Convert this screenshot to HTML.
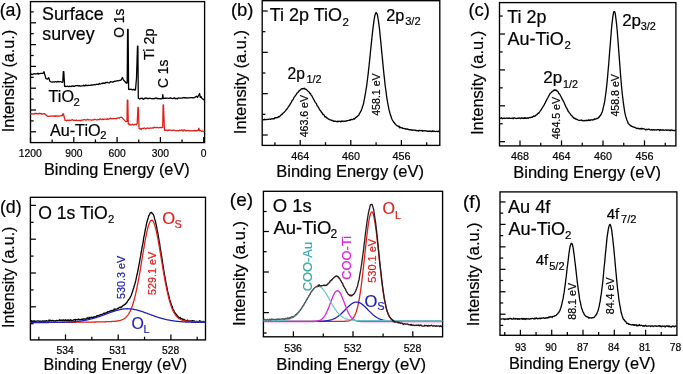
<!DOCTYPE html>
<html><head><meta charset="utf-8"><style>
html,body{margin:0;padding:0;background:#fff;}
svg{display:block;will-change:transform;}
text{font-family:"Liberation Sans", sans-serif;stroke-width:0.2px;}
</style></head><body>
<svg width="683" height="374" viewBox="0 0 683 374">
<rect width="683" height="374" fill="#fff"/>
<text x="-0.37" y="16" font-size="17.8" fill="#000" stroke="#000">(a)</text>
<rect x="30.5" y="1.6" width="174.1" height="141" fill="none" stroke="#000" stroke-width="1.35"/>
<line x1="30.5" y1="131.8" x2="36" y2="131.8" stroke="#000" stroke-width="1.25"/>
<line x1="30.5" y1="110" x2="36" y2="110" stroke="#000" stroke-width="1.25"/>
<line x1="30.5" y1="88.2" x2="36" y2="88.2" stroke="#000" stroke-width="1.25"/>
<line x1="30.5" y1="66.4" x2="36" y2="66.4" stroke="#000" stroke-width="1.25"/>
<line x1="30.5" y1="44.6" x2="36" y2="44.6" stroke="#000" stroke-width="1.25"/>
<line x1="30.5" y1="22.8" x2="36" y2="22.8" stroke="#000" stroke-width="1.25"/>
<line x1="30.5" y1="120.9" x2="33.7" y2="120.9" stroke="#000" stroke-width="1.25"/>
<line x1="30.5" y1="99.1" x2="33.7" y2="99.1" stroke="#000" stroke-width="1.25"/>
<line x1="30.5" y1="77.3" x2="33.7" y2="77.3" stroke="#000" stroke-width="1.25"/>
<line x1="30.5" y1="55.5" x2="33.7" y2="55.5" stroke="#000" stroke-width="1.25"/>
<line x1="30.5" y1="33.7" x2="33.7" y2="33.7" stroke="#000" stroke-width="1.25"/>
<line x1="30.5" y1="11.9" x2="33.7" y2="11.9" stroke="#000" stroke-width="1.25"/>
<line x1="30.5" y1="142.6" x2="30.5" y2="137.1" stroke="#000" stroke-width="1.25"/>
<line x1="73.8" y1="142.6" x2="73.8" y2="137.1" stroke="#000" stroke-width="1.25"/>
<line x1="117.1" y1="142.6" x2="117.1" y2="137.1" stroke="#000" stroke-width="1.25"/>
<line x1="160.4" y1="142.6" x2="160.4" y2="137.1" stroke="#000" stroke-width="1.25"/>
<line x1="203.7" y1="142.6" x2="203.7" y2="137.1" stroke="#000" stroke-width="1.25"/>
<line x1="52.15" y1="142.6" x2="52.15" y2="139.4" stroke="#000" stroke-width="1.25"/>
<line x1="95.45" y1="142.6" x2="95.45" y2="139.4" stroke="#000" stroke-width="1.25"/>
<line x1="138.75" y1="142.6" x2="138.75" y2="139.4" stroke="#000" stroke-width="1.25"/>
<line x1="182.05" y1="142.6" x2="182.05" y2="139.4" stroke="#000" stroke-width="1.25"/>
<text x="18.86" y="157.1" font-size="10.3" fill="#000" stroke="#000">1200</text>
<text x="65.2" y="157.1" font-size="10.3" fill="#000" stroke="#000">900</text>
<text x="108.47" y="157.1" font-size="10.3" fill="#000" stroke="#000">600</text>
<text x="151.83" y="157.1" font-size="10.3" fill="#000" stroke="#000">300</text>
<text x="200.84" y="157.1" font-size="10.3" fill="#000" stroke="#000">0</text>
<text x="44" y="174.9" font-size="16.3" fill="#000" stroke="#000">Binding Energy (eV)</text>
<text transform="translate(13.6,132.36) rotate(-90)" font-size="16.2" fill="#000" stroke="#000">Intensity (a.u.)</text>
<text x="41.99" y="19.8" font-size="17.9" fill="#000" stroke="#000">Surface</text>
<text x="42.27" y="40.3" font-size="17.8" fill="#000" stroke="#000">survey</text>
<text transform="translate(123.9,37.72) rotate(-90)" font-size="13.8" fill="#000" stroke="#000">O 1s</text>
<text transform="translate(153.8,60.06) rotate(-90)" font-size="14.4" fill="#000" stroke="#000">Ti 2p</text>
<text transform="translate(167.9,87.99) rotate(-90)" font-size="13.8" fill="#000" stroke="#000">C 1s</text>
<text x="48.59" y="102" font-size="16.2" fill="#000" stroke="#000">TiO</text>
<text x="73.44" y="105.7" font-size="11.3" fill="#000" stroke="#000">2</text>
<text x="49.92" y="135.6" font-size="16.2" fill="#000" stroke="#000">Au-TiO</text>
<text x="100.14" y="139.3" font-size="11.3" fill="#000" stroke="#000">2</text>
<path d="M30.5,74.2 L31.24,74.16 L31.97,74.5 L32.71,74.41 L33.44,73.84 L34.18,73.85 L34.91,73.72 L35.65,74 L36.38,73.76 L37.12,73.95 L37.85,73.12 L38.59,74.09 L39.32,73.54 L40.06,73.72 L40.79,73.42 L41.53,73.29 L42.26,73.49 L43,73.3 L44,71.7 L45.9,78.7 L47.5,79 L48.7,77.8 L50,81.5 L51.4,82 L52.11,82.25 L52.82,81.94 L53.54,81.95 L54.25,82.21 L54.96,81.74 L55.67,81.55 L56.39,82.12 L57.1,81.8 L57.81,81.42 L58.52,81.76 L59.24,81.86 L59.95,81.64 L60.66,81.55 L61.38,82.01 L62.09,82.27 L62.8,82 L63.3,71.6 L63.8,71.6 L64.6,86.4 L66,86.5 L66.71,86.39 L67.41,86.21 L68.12,86.51 L68.82,86.57 L69.53,86.23 L70.24,86.45 L70.94,86.57 L71.65,86.16 L72.35,85.94 L73.06,86.25 L73.76,86.19 L74.47,86.41 L75.18,85.66 L75.88,85.81 L76.59,85.72 L77.29,85.42 L78,85.94 L78.71,86.02 L79.41,85.61 L80.12,86.21 L80.82,86.01 L81.53,85.91 L82.24,85.81 L82.94,85.94 L83.65,85.22 L84.35,85.77 L85.06,85.73 L85.76,84.98 L86.47,85.58 L87.18,85.37 L87.88,85.64 L88.59,85.24 L89.29,85.33 L90,85.3 L90.71,85.29 L91.43,84.82 L92.14,85.15 L92.86,84.83 L93.57,84.89 L94.29,84.48 L95,84.85 L95.71,84.6 L96.43,84.25 L97.14,84.38 L97.86,84.46 L98.57,84.51 L99.29,83.39 L100,84.01 L100.71,83.78 L101.43,83.5 L102.14,83.12 L102.86,83.68 L103.57,82.82 L104.29,83.26 L105,83.37 L105.71,82.38 L106.43,82.66 L107.14,82.25 L107.86,82.61 L108.57,82.88 L109.29,82.92 L110,82.2 L110.73,81.53 L111.47,81.76 L112.2,82.01 L112.93,82.14 L113.67,81.66 L114.4,81.18 L115.13,81.36 L115.87,81.13 L116.6,80.94 L117.33,80.65 L118.07,80.85 L118.8,80.69 L119.53,80.44 L120.27,80.27 L121,80.2 L122.4,77.5 L123.5,80 L126.5,83.2 L127.2,83 L127.6,29.3 L128.1,29.3 L128.6,89.3 L130,89.5 L130.79,89.16 L131.57,89.44 L132.36,89.99 L133.14,89.61 L133.93,89.28 L134.71,90.16 L135.5,89.8 L136.5,78 L137.5,46.2 L137.9,46.2 L138.3,98.3 L139.04,98.49 L139.79,99 L140.53,98.42 L141.28,98.29 L142.02,98.03 L142.77,98.9 L143.51,99.3 L144.26,98.32 L145,98.6 L146,97.8 L147,98.5 L147.73,98.31 L148.46,98.68 L149.19,98.25 L149.91,98.42 L150.64,98.4 L151.37,98.56 L152.1,98.83 L152.83,98.51 L153.56,98.78 L154.29,98.37 L155.01,98.6 L155.74,97.86 L156.47,98.07 L157.2,98.74 L157.93,98.32 L158.66,98.67 L159.39,98.66 L160.11,98.9 L160.84,98.74 L161.57,98.81 L162.3,98.5 L162.8,94.7 L163.3,98.5 L164.01,98.45 L164.71,98.25 L165.42,98.22 L166.13,98.27 L166.83,98.06 L167.54,98.21 L168.25,98.33 L168.95,98.41 L169.66,98.21 L170.37,97.72 L171.08,98.25 L171.78,98.32 L172.49,98.56 L173.2,98.39 L173.9,98 L174.61,97.96 L175.32,98.76 L176.02,98.36 L176.73,98.66 L177.44,98.73 L178.14,97.83 L178.85,98.17 L179.56,98.17 L180.26,98.18 L180.97,98.15 L181.68,98.03 L182.38,98 L183.09,97.48 L183.8,97.86 L184.5,97.66 L185.21,97.9 L185.92,97.71 L186.62,98.01 L187.33,98.05 L188.04,97.88 L188.75,97.86 L189.45,97.77 L190.16,97.59 L190.87,97.65 L191.57,97.53 L192.28,97.78 L192.99,97.65 L193.69,97.79 L194.4,97.6 L196.6,96.2 L197.5,97.5 L199.6,93.5 L200.3,97.5 L201,96.5 L202,98.5 L204,99.9" fill="none" stroke="#000" stroke-width="1.3" stroke-linejoin="round" stroke-linecap="round" opacity="1"/>
<path d="M30.5,113.7 L31.21,113.7 L31.92,114.01 L32.63,113.92 L33.34,113.92 L34.05,114.19 L34.76,113.34 L35.47,113.51 L36.18,113.3 L36.89,113.67 L37.6,114 L38.31,113.69 L39.02,113.85 L39.73,113.13 L40.44,113.74 L41.15,113.43 L41.86,114.23 L42.57,113.97 L43.28,113.98 L43.99,113.68 L44.7,113.7 L47.4,116.2 L48.11,116.38 L48.81,116.4 L49.52,116.1 L50.23,116.05 L50.93,116.17 L51.64,116.02 L52.34,116.02 L53.05,116.11 L53.76,115.98 L54.46,116.43 L55.17,115.72 L55.88,116.45 L56.58,116.01 L57.29,116.04 L57.99,115.79 L58.7,116.2 L59.46,116.02 L60.22,115.85 L60.98,115.84 L61.74,115.48 L62.5,115.5 L62.8,113.9 L63.5,114 L65,120.3 L65.71,120.32 L66.43,120.82 L67.14,120.39 L67.86,120.08 L68.57,120.53 L69.29,120.19 L70,120.4 L70.71,120.39 L71.43,120.08 L72.14,119.61 L72.86,120.07 L73.57,120.33 L74.29,120.04 L75,120.27 L75.71,120.42 L76.43,119.95 L77.14,120.48 L77.86,120.58 L78.57,120.41 L79.29,120.42 L80,120.39 L80.71,120.72 L81.43,120.09 L82.14,120.03 L82.86,120.2 L83.57,119.73 L84.29,119.53 L85,119.72 L85.71,120.08 L86.43,120.1 L87.14,119.48 L87.86,119.37 L88.57,119.83 L89.29,119.86 L90,119.9 L90.71,119.85 L91.43,120.03 L92.14,120.17 L92.86,119.83 L93.57,119.91 L94.29,119.37 L95,119.31 L95.71,119.7 L96.43,119.79 L97.14,119.78 L97.86,119.7 L98.57,119.72 L99.29,119.7 L100,118.89 L100.71,119.17 L101.43,119.49 L102.14,119.5 L102.86,118.83 L103.57,119.6 L104.29,119.08 L105,119.11 L105.71,119.23 L106.43,119.34 L107.14,118.65 L107.86,119.34 L108.57,119.03 L109.29,118.74 L110,118.86 L110.71,118.25 L111.43,118.68 L112.14,118.89 L112.86,118.59 L113.57,118.67 L114.29,118.69 L115,118.7 L115.73,118.54 L116.47,118.65 L117.2,118.16 L117.93,117.91 L118.67,117.97 L119.4,118.26 L120.13,117.35 L120.87,117.43 L121.6,117.1 L125.8,121.6 L127,121.6 L127.3,100.2 L127.8,100.2 L128.3,124.3 L129.01,123.87 L129.72,124.79 L130.43,124.63 L131.14,124.88 L131.85,124.51 L132.55,124.26 L133.26,124.88 L133.97,124.89 L134.68,124.45 L135.39,124.31 L136.1,124.8 L137.2,123.5 L137.9,107.5 L138.3,107.5 L139.1,128.8 L139.82,128.89 L140.53,128.66 L141.25,129.44 L141.97,128.43 L142.68,128.41 L143.4,128.49 L144.12,127.97 L144.83,128.16 L145.55,128.87 L146.27,128.29 L146.98,128.1 L147.7,127.86 L148.42,128.37 L149.13,128.34 L149.85,128.18 L150.57,127.94 L151.28,128.1 L152,128.07 L152.72,127.71 L153.43,128.05 L154.15,127.19 L154.87,127.39 L155.58,127.64 L156.3,127.65 L157.02,127.28 L157.73,127.69 L158.45,127.86 L159.17,127.63 L159.88,127.51 L160.6,127.4 L161.65,127.65 L162.7,127.4 L163.1,105 L163.5,105 L164.5,130.3 L165.21,130.43 L165.93,129.97 L166.64,130.26 L167.35,130.72 L168.06,130 L168.78,130.37 L169.49,130.24 L170.2,130.1 L170.91,130.07 L171.63,130.42 L172.34,130.49 L173.05,130.49 L173.77,129.98 L174.48,130.33 L175.19,130.53 L175.9,130.72 L176.62,130.65 L177.33,130.7 L178.04,130.79 L178.76,130.72 L179.47,130.23 L180.18,130.5 L180.89,130.28 L181.61,129.79 L182.32,130.01 L183.03,131.15 L183.74,130.19 L184.46,129.87 L185.17,130.37 L185.88,131.01 L186.6,130.55 L187.31,130.69 L188.02,130.5 L188.73,130.56 L189.45,130.98 L190.16,130.85 L190.87,130.59 L191.59,130.89 L192.3,130.95 L193.01,130.57 L193.72,130.73 L194.44,130.73 L195.15,130.47 L195.86,131.02 L196.57,130.63 L197.29,130.51 L198,130.7 L198.8,128.2 L199.5,130.7 L200.25,130.33 L201,130.59 L201.75,131.56 L202.5,130.89 L203.25,131.5 L204,131.5" fill="none" stroke="#e0201c" stroke-width="1.3" stroke-linejoin="round" stroke-linecap="round" opacity="1"/>
<text x="230.89" y="15.9" font-size="18.5" fill="#000" stroke="#000">(b)</text>
<rect x="262.2" y="0.7" width="177.6" height="144.7" fill="none" stroke="#000" stroke-width="1.35"/>
<line x1="262.2" y1="135" x2="267.7" y2="135" stroke="#000" stroke-width="1.25"/>
<line x1="262.2" y1="93.67" x2="267.7" y2="93.67" stroke="#000" stroke-width="1.25"/>
<line x1="262.2" y1="52.34" x2="267.7" y2="52.34" stroke="#000" stroke-width="1.25"/>
<line x1="262.2" y1="11.01" x2="267.7" y2="11.01" stroke="#000" stroke-width="1.25"/>
<line x1="262.2" y1="114.33" x2="265.4" y2="114.33" stroke="#000" stroke-width="1.25"/>
<line x1="262.2" y1="73" x2="265.4" y2="73" stroke="#000" stroke-width="1.25"/>
<line x1="262.2" y1="31.67" x2="265.4" y2="31.67" stroke="#000" stroke-width="1.25"/>
<line x1="262.2" y1="-9.66" x2="265.4" y2="-9.66" stroke="#000" stroke-width="1.25"/>
<line x1="300.2" y1="145.4" x2="300.2" y2="139.9" stroke="#000" stroke-width="1.25"/>
<line x1="350.8" y1="145.4" x2="350.8" y2="139.9" stroke="#000" stroke-width="1.25"/>
<line x1="401.4" y1="145.4" x2="401.4" y2="139.9" stroke="#000" stroke-width="1.25"/>
<line x1="274.9" y1="145.4" x2="274.9" y2="142.2" stroke="#000" stroke-width="1.25"/>
<line x1="325.5" y1="145.4" x2="325.5" y2="142.2" stroke="#000" stroke-width="1.25"/>
<line x1="376.1" y1="145.4" x2="376.1" y2="142.2" stroke="#000" stroke-width="1.25"/>
<line x1="426.7" y1="145.4" x2="426.7" y2="142.2" stroke="#000" stroke-width="1.25"/>
<text x="291.24" y="159.6" font-size="10.8" fill="#000" stroke="#000">464</text>
<text x="341.89" y="159.6" font-size="10.8" fill="#000" stroke="#000">460</text>
<text x="392.52" y="159.6" font-size="10.8" fill="#000" stroke="#000">456</text>
<text x="276.28" y="177.2" font-size="16.5" fill="#000" stroke="#000">Binding Energy (eV)</text>
<text transform="translate(245.7,134.18) rotate(-90)" font-size="16.45" fill="#000" stroke="#000">Intensity (a.u.)</text>
<text x="269.75" y="21.2" font-size="18" fill="#000" stroke="#000">Ti 2p TiO</text>
<text x="342.53" y="25.5" font-size="11.5" fill="#000" stroke="#000">2</text>
<text x="287.62" y="78.5" font-size="15.6" fill="#000" stroke="#000">2p</text>
<text x="306.48" y="82.8" font-size="10.9" fill="#000" stroke="#000">1/2</text>
<text x="386.19" y="21" font-size="16.3" fill="#000" stroke="#000">2p</text>
<text x="405.16" y="24.9" font-size="11.1" fill="#000" stroke="#000">3/2</text>
<text transform="translate(308,137.36) rotate(-90)" font-size="10.6" fill="#000" stroke="#000">463.6 eV</text>
<text transform="translate(380.3,115.77) rotate(-90)" font-size="10.6" fill="#000" stroke="#000">458.1 eV</text>
<path d="M262.9,119.65 L263.4,119.76 L263.9,119.63 L264.4,119.2 L264.9,119.74 L265.4,119.61 L265.91,119.34 L266.41,119.6 L266.91,119.52 L267.41,119.47 L267.91,119.38 L268.41,119.47 L268.91,119.11 L269.41,119.21 L269.91,119.08 L270.41,119.29 L270.91,119.09 L271.41,118.93 L271.92,118.73 L272.42,118.78 L272.92,118.75 L273.42,118.57 L273.92,118.85 L274.42,118.65 L274.92,117.58 L275.42,117.63 L275.92,117.89 L276.42,117.65 L276.92,117.6 L277.42,117.39 L277.93,117.63 L278.43,116.57 L278.93,116.48 L279.43,116.79 L279.93,116.12 L280.43,115.78 L280.93,115.13 L281.43,114.46 L281.93,114.5 L282.43,114.05 L282.93,113.25 L283.43,112.89 L283.94,112.53 L284.44,111.77 L284.94,111.41 L285.44,110.87 L285.94,110.23 L286.44,109.45 L286.94,109.05 L287.44,108.43 L287.94,107.58 L288.44,106.56 L288.94,106.19 L289.45,105.11 L289.95,104.67 L290.45,103.38 L290.95,103.07 L291.45,102.01 L291.95,100.88 L292.45,100.29 L292.95,99.56 L293.45,98.8 L293.95,97.67 L294.45,96.84 L294.95,96.39 L295.46,95.46 L295.96,94.89 L296.46,94.3 L296.96,93.02 L297.46,92.84 L297.96,92.46 L298.46,91.51 L298.96,90.85 L299.46,90.75 L299.96,90.19 L300.46,89.96 L300.96,89.32 L301.47,88.76 L301.97,88.88 L302.47,88.64 L302.97,88.84 L303.47,88.66 L303.97,88.22 L304.47,88.42 L304.97,89.08 L305.47,89.23 L305.97,89.17 L306.47,89.65 L306.97,90.15 L307.48,90.59 L307.98,91.18 L308.48,91.56 L308.98,92.06 L309.48,92.64 L309.98,93.64 L310.48,93.53 L310.98,94.8 L311.48,95.61 L311.98,96.05 L312.48,97.32 L312.99,97.92 L313.49,99.15 L313.99,99.78 L314.49,100.86 L314.99,101.89 L315.49,102.57 L315.99,103.14 L316.49,103.86 L316.99,105.55 L317.49,105.95 L317.99,106.66 L318.49,107.7 L319,108.43 L319.5,109.49 L320,110.06 L320.5,110.81 L321,111.35 L321.5,112.35 L322,112.64 L322.5,113.71 L323,114.54 L323.5,114.37 L324,114.69 L324.5,115.99 L325.01,116.97 L325.51,116.56 L326.01,116.94 L326.51,117.81 L327.01,117.84 L327.51,118.29 L328.01,118.66 L328.51,119.2 L329.01,119.25 L329.51,119.68 L330.01,119.81 L330.52,119.87 L331.02,120.2 L331.52,120.22 L332.02,120.63 L332.52,120.49 L333.02,120.63 L333.52,121.38 L334.02,121.1 L334.52,121.19 L335.02,121.41 L335.52,121.24 L336.02,121.34 L336.53,121.54 L337.03,121.54 L337.53,121.2 L338.03,121.72 L338.53,121.37 L339.03,121.25 L339.53,121.28 L340.03,121.4 L340.53,121.88 L341.03,121.15 L341.53,121.46 L342.03,120.85 L342.54,121.34 L343.04,121.52 L343.54,121.18 L344.04,121.02 L344.54,121.18 L345.04,121.23 L345.54,121.15 L346.04,121.4 L346.54,120.88 L347.04,120.59 L347.54,120.61 L348.04,120.53 L348.55,120.47 L349.05,120.32 L349.55,120.26 L350.05,119.67 L350.55,120.16 L351.05,119.67 L351.55,119.37 L352.05,119.65 L352.55,119.65 L353.05,119.25 L353.55,118.96 L354.06,118.46 L354.56,119.17 L355.06,118.4 L355.56,117.59 L356.06,117.35 L356.56,117.19 L357.06,116.36 L357.56,116.33 L358.06,115.64 L358.56,115.47 L359.06,114.73 L359.56,113.04 L360.07,112.87 L360.57,111.48 L361.07,111.05 L361.57,109.57 L362.07,108.26 L362.57,106.28 L363.07,105.24 L363.57,103.32 L364.07,100.37 L364.57,98.32 L365.07,95.42 L365.57,92.68 L366.08,89.23 L366.58,86.61 L367.08,82.24 L367.58,78.51 L368.08,74.56 L368.58,69.92 L369.08,65.46 L369.58,60.66 L370.08,55.91 L370.58,50.72 L371.08,45.94 L371.58,41.07 L372.09,36.22 L372.59,31.69 L373.09,27.26 L373.59,23.56 L374.09,19.82 L374.59,16.99 L375.09,14.66 L375.59,13.27 L376.09,12.47 L376.59,13.15 L377.09,13.82 L377.6,15.82 L378.1,18.75 L378.6,22.09 L379.1,25.79 L379.6,29.75 L380.1,35.1 L380.6,40.06 L381.1,44.81 L381.6,50.62 L382.1,55.53 L382.6,60.64 L383.1,66.07 L383.61,70.97 L384.11,75.85 L384.61,79.96 L385.11,85.15 L385.61,88.62 L386.11,92.2 L386.61,96.29 L387.11,99.32 L387.61,102.5 L388.11,105.09 L388.61,107.67 L389.11,110.01 L389.62,111.81 L390.12,114 L390.62,115.35 L391.12,116.71 L391.62,118.25 L392.12,119.5 L392.62,120.35 L393.12,121.1 L393.62,122.27 L394.12,122.39 L394.62,123.2 L395.12,124.03 L395.63,124.18 L396.13,124.97 L396.63,125.35 L397.13,125.94 L397.63,125.82 L398.13,126.18 L398.63,126.69 L399.13,126.24 L399.63,127.86 L400.13,127.12 L400.63,127.31 L401.14,127.89 L401.64,127.83 L402.14,127.56 L402.64,128.31 L403.14,128.51 L403.64,128.32 L404.14,128.49 L404.64,128.8 L405.14,128.57 L405.64,129.01 L406.14,129.06 L406.64,128.94 L407.15,128.86 L407.65,129.24 L408.15,129.16 L408.65,129.72 L409.15,129.58 L409.65,129.82 L410.15,129.73 L410.65,129.83 L411.15,129.64 L411.65,130.07 L412.15,130.41 L412.65,129.95 L413.16,129.93 L413.66,130.1 L414.16,130.07 L414.66,130.07 L415.16,130.33 L415.66,130.27 L416.16,130.75 L416.66,130.43 L417.16,130.56 L417.66,130.76 L418.16,130.48 L418.67,130.96 L419.17,130.48 L419.67,130.47 L420.17,130.62 L420.67,130.71 L421.17,130.43 L421.67,130.8 L422.17,130.42 L422.67,131.22 L423.17,130.88 L423.67,130.77 L424.17,130.73 L424.68,130.89 L425.18,130.95 L425.68,130.77 L426.18,130.83 L426.68,131.04 L427.18,130.98 L427.68,131.36 L428.18,131.44 L428.68,131.18 L429.18,131.31 L429.68,130.88 L430.18,131.39 L430.69,131.25 L431.19,131.39 L431.69,131.69 L432.19,130.74 L432.69,131.39 L433.19,131.07 L433.69,131.51 L434.19,131.05 L434.69,131.27 L435.19,131.46 L435.69,131.58 L436.19,131.46 L436.7,131.25 L437.2,131.33 L437.7,131.7 L438.2,131.49 L438.7,131.08 L439.2,131.73" fill="none" stroke="#000" stroke-width="1.3" stroke-linejoin="round" stroke-linecap="round" opacity="1"/>
<text x="468.5" y="16.4" font-size="18.4" fill="#000" stroke="#000">(c)</text>
<rect x="499.5" y="2.6" width="176.4" height="143.3" fill="none" stroke="#000" stroke-width="1.35"/>
<line x1="499.5" y1="141.7" x2="505" y2="141.7" stroke="#000" stroke-width="1.25"/>
<line x1="499.5" y1="105.8" x2="505" y2="105.8" stroke="#000" stroke-width="1.25"/>
<line x1="499.5" y1="69.9" x2="505" y2="69.9" stroke="#000" stroke-width="1.25"/>
<line x1="499.5" y1="34" x2="505" y2="34" stroke="#000" stroke-width="1.25"/>
<line x1="499.5" y1="123.75" x2="502.7" y2="123.75" stroke="#000" stroke-width="1.25"/>
<line x1="499.5" y1="87.85" x2="502.7" y2="87.85" stroke="#000" stroke-width="1.25"/>
<line x1="499.5" y1="51.95" x2="502.7" y2="51.95" stroke="#000" stroke-width="1.25"/>
<line x1="499.5" y1="16.05" x2="502.7" y2="16.05" stroke="#000" stroke-width="1.25"/>
<line x1="520" y1="145.9" x2="520" y2="140.4" stroke="#000" stroke-width="1.25"/>
<line x1="561.5" y1="145.9" x2="561.5" y2="140.4" stroke="#000" stroke-width="1.25"/>
<line x1="603" y1="145.9" x2="603" y2="140.4" stroke="#000" stroke-width="1.25"/>
<line x1="644.5" y1="145.9" x2="644.5" y2="140.4" stroke="#000" stroke-width="1.25"/>
<line x1="540.75" y1="145.9" x2="540.75" y2="142.7" stroke="#000" stroke-width="1.25"/>
<line x1="582.25" y1="145.9" x2="582.25" y2="142.7" stroke="#000" stroke-width="1.25"/>
<line x1="623.75" y1="145.9" x2="623.75" y2="142.7" stroke="#000" stroke-width="1.25"/>
<line x1="665.25" y1="145.9" x2="665.25" y2="142.7" stroke="#000" stroke-width="1.25"/>
<text x="511.09" y="159.8" font-size="10.8" fill="#000" stroke="#000">468</text>
<text x="552.54" y="159.8" font-size="10.8" fill="#000" stroke="#000">464</text>
<text x="594.09" y="159.8" font-size="10.8" fill="#000" stroke="#000">460</text>
<text x="635.62" y="159.8" font-size="10.8" fill="#000" stroke="#000">456</text>
<text x="513.28" y="177.8" font-size="16.5" fill="#000" stroke="#000">Binding Energy (eV)</text>
<text transform="translate(482.6,134.98) rotate(-90)" font-size="16.45" fill="#000" stroke="#000">Intensity (a.u.)</text>
<text x="507.35" y="22.5" font-size="17.9" fill="#000" stroke="#000">Ti 2p</text>
<text x="507.41" y="44.5" font-size="18" fill="#000" stroke="#000">Au-TiO</text>
<text x="564.42" y="48.6" font-size="11.5" fill="#000" stroke="#000">2</text>
<text x="543.35" y="83.4" font-size="17" fill="#000" stroke="#000">2p</text>
<text x="563.1" y="87.7" font-size="10.7" fill="#000" stroke="#000">1/2</text>
<text x="622.15" y="25.6" font-size="17" fill="#000" stroke="#000">2p</text>
<text x="640.76" y="29.6" font-size="10.9" fill="#000" stroke="#000">3/2</text>
<text transform="translate(560,139.36) rotate(-90)" font-size="10.6" fill="#000" stroke="#000">464.5 eV</text>
<text transform="translate(618.5,116.56) rotate(-90)" font-size="10.6" fill="#000" stroke="#000">458.8 eV</text>
<path d="M500.2,118.32 L500.7,118.14 L501.2,118.17 L501.7,117.66 L502.2,118.72 L502.7,118.55 L503.2,118.19 L503.7,118.46 L504.2,118.34 L504.7,118.13 L505.2,118.51 L505.7,118.18 L506.2,118.18 L506.7,118.06 L507.2,118.37 L507.7,118.23 L508.2,118.39 L508.7,118.1 L509.2,118.28 L509.7,118.03 L510.2,118.46 L510.7,118.29 L511.2,118.33 L511.7,118.34 L512.2,117.99 L512.7,118.43 L513.2,118.75 L513.7,117.82 L514.2,117.8 L514.7,117.85 L515.2,118.44 L515.7,118.26 L516.2,118.49 L516.7,118.4 L517.2,118.27 L517.7,118.28 L518.2,118.17 L518.7,118.42 L519.2,117.92 L519.7,118.09 L520.2,118.25 L520.7,118.63 L521.2,117.99 L521.7,117.9 L522.2,118.02 L522.7,118.39 L523.2,118.08 L523.7,118.45 L524.2,117.64 L524.7,118.37 L525.2,118.33 L525.7,117.69 L526.2,118.05 L526.7,118.29 L527.2,117.97 L527.7,118.15 L528.2,118.44 L528.7,117.86 L529.2,117.66 L529.7,117.46 L530.2,117.72 L530.7,117.41 L531.2,117.3 L531.7,117.19 L532.2,117.24 L532.7,116.65 L533.2,116.35 L533.7,115.92 L534.2,116.6 L534.7,116.06 L535.2,116.14 L535.7,115.45 L536.2,114.92 L536.7,114.85 L537.2,114.3 L537.7,113.57 L538.2,113.18 L538.7,113.32 L539.2,112.41 L539.7,111.82 L540.2,111.01 L540.7,110.23 L541.2,109.91 L541.7,108.91 L542.2,107.95 L542.7,107.29 L543.2,106.24 L543.7,105.63 L544.2,104.95 L544.7,103.53 L545.2,103.15 L545.7,101.67 L546.2,100.91 L546.7,99.7 L547.2,98.9 L547.7,98.02 L548.2,96.98 L548.7,96.02 L549.2,95.17 L549.7,94.31 L550.2,93.36 L550.7,92.97 L551.2,92.49 L551.7,92.03 L552.2,91.46 L552.7,91.49 L553.2,90.61 L553.7,90.16 L554.2,90.59 L554.7,89.79 L555.2,90.32 L555.7,89.96 L556.2,90.5 L556.7,90.23 L557.2,91.35 L557.7,91.57 L558.2,91.93 L558.7,93.24 L559.2,93.73 L559.7,94.33 L560.2,94.97 L560.7,96.04 L561.2,96.95 L561.7,98.14 L562.2,99.16 L562.7,99.82 L563.2,100.89 L563.7,101.94 L564.2,102.79 L564.7,104.02 L565.2,105.18 L565.7,106.39 L566.2,107.55 L566.7,107.98 L567.2,109.26 L567.7,109.92 L568.2,111.42 L568.7,111.72 L569.2,112.64 L569.7,113.03 L570.2,113.77 L570.7,114.68 L571.2,115.15 L571.7,115.91 L572.2,115.96 L572.7,117.01 L573.2,117.07 L573.7,118.14 L574.2,118.01 L574.7,118.69 L575.2,118.38 L575.7,119.11 L576.2,119.02 L576.7,119.34 L577.2,119.66 L577.7,119.75 L578.2,120.04 L578.7,120.29 L579.2,120.37 L579.7,120.28 L580.2,120.03 L580.7,120.24 L581.2,120.44 L581.7,120 L582.2,120.74 L582.7,120.52 L583.2,120.52 L583.7,120.83 L584.2,120.75 L584.7,120.63 L585.2,120.31 L585.7,120.62 L586.2,120.6 L586.7,120.26 L587.2,120.7 L587.7,120.53 L588.2,119.86 L588.7,120.34 L589.2,119.94 L589.7,120.48 L590.2,120.33 L590.7,119.78 L591.2,119.76 L591.7,119.93 L592.2,119.76 L592.7,120.11 L593.2,119.81 L593.7,119.45 L594.2,119.54 L594.7,118.76 L595.2,119.2 L595.7,119.18 L596.2,118.73 L596.7,118.39 L597.2,118.48 L597.7,118.55 L598.2,117.79 L598.7,117.08 L599.2,117.28 L599.7,115.92 L600.2,115.88 L600.7,114.85 L601.2,114.32 L601.7,112.79 L602.2,112.04 L602.7,110.26 L603.2,107.95 L603.7,105.79 L604.2,103.76 L604.7,101.35 L605.2,97.85 L605.7,94.21 L606.2,90.08 L606.7,85.83 L607.2,80.83 L607.7,75.49 L608.2,69.5 L608.7,64.06 L609.2,57.89 L609.7,50.87 L610.2,45.39 L610.7,38.71 L611.2,32.39 L611.7,26.43 L612.2,22.08 L612.7,17.84 L613.2,14.31 L613.7,11.88 L614.2,11.72 L614.7,11.68 L615.2,13.39 L615.7,17.1 L616.2,20.89 L616.7,25.48 L617.2,30.75 L617.7,37.2 L618.2,43 L618.7,50.34 L619.2,56.91 L619.7,63.48 L620.2,69.93 L620.7,76.7 L621.2,82.48 L621.7,88 L622.2,93.24 L622.7,97.43 L623.2,101.49 L623.7,105.07 L624.2,108.7 L624.7,111.84 L625.2,114.1 L625.7,116.44 L626.2,117.82 L626.7,119.55 L627.2,120.79 L627.7,121.77 L628.2,123.48 L628.7,124.01 L629.2,124.26 L629.7,124.81 L630.2,125.45 L630.7,125.5 L631.2,126.3 L631.7,126.16 L632.2,126.65 L632.7,126.71 L633.2,127.04 L633.7,127.01 L634.2,127.11 L634.7,127.41 L635.2,127.61 L635.7,127.83 L636.2,128.04 L636.7,128.51 L637.2,128.43 L637.7,128.26 L638.2,128.6 L638.7,128.33 L639.2,128.94 L639.7,128.79 L640.2,128.39 L640.7,128.98 L641.2,129.06 L641.7,128.24 L642.2,128.79 L642.7,128.91 L643.2,128.6 L643.7,128.86 L644.2,128.94 L644.7,129.35 L645.2,129.34 L645.7,129.97 L646.2,129.25 L646.7,129.67 L647.2,129.44 L647.7,129.52 L648.2,129.2 L648.7,129.04 L649.2,129.36 L649.7,129.77 L650.2,130.01 L650.7,129.79 L651.2,129.79 L651.7,129.48 L652.2,130.1 L652.7,130.07 L653.2,129.63 L653.7,129.77 L654.2,129.55 L654.7,130.19 L655.2,129.94 L655.7,129.84 L656.2,129.98 L656.7,130.01 L657.2,129.81 L657.7,129.62 L658.2,129.63 L658.7,129.53 L659.2,130.09 L659.7,130.55 L660.2,129.58 L660.7,130.06 L661.2,130.14 L661.7,129.8 L662.2,130.11 L662.7,129.8 L663.2,130.38 L663.7,129.95 L664.2,130.13 L664.7,130.29 L665.2,130.02 L665.7,129.69 L666.2,130.02 L666.7,130.35 L667.2,130.15 L667.7,130.23 L668.2,129.92 L668.7,130.23 L669.2,130.38 L669.7,130.22 L670.2,130.7 L670.7,130.17 L671.2,129.97 L671.7,129.84 L672.2,130.54 L672.7,130.24 L673.2,130.52 L673.7,130.38 L674.2,130.68 L674.7,130.6 L675.2,130.2" fill="none" stroke="#000" stroke-width="1.3" stroke-linejoin="round" stroke-linecap="round" opacity="1"/>
<text x="-0.07" y="212.5" font-size="17.8" fill="#000" stroke="#000">(d)</text>
<rect x="30.4" y="197.3" width="175.1" height="142.6" fill="none" stroke="#000" stroke-width="1.35"/>
<line x1="30.4" y1="205.4" x2="35.9" y2="205.4" stroke="#000" stroke-width="1.25"/>
<line x1="30.4" y1="239.2" x2="35.9" y2="239.2" stroke="#000" stroke-width="1.25"/>
<line x1="30.4" y1="273" x2="35.9" y2="273" stroke="#000" stroke-width="1.25"/>
<line x1="30.4" y1="306.8" x2="35.9" y2="306.8" stroke="#000" stroke-width="1.25"/>
<line x1="30.4" y1="222.3" x2="33.6" y2="222.3" stroke="#000" stroke-width="1.25"/>
<line x1="30.4" y1="256.1" x2="33.6" y2="256.1" stroke="#000" stroke-width="1.25"/>
<line x1="30.4" y1="289.9" x2="33.6" y2="289.9" stroke="#000" stroke-width="1.25"/>
<line x1="30.4" y1="323.7" x2="33.6" y2="323.7" stroke="#000" stroke-width="1.25"/>
<line x1="65.5" y1="339.9" x2="65.5" y2="334.4" stroke="#000" stroke-width="1.25"/>
<line x1="118.2" y1="339.9" x2="118.2" y2="334.4" stroke="#000" stroke-width="1.25"/>
<line x1="170.9" y1="339.9" x2="170.9" y2="334.4" stroke="#000" stroke-width="1.25"/>
<line x1="38.85" y1="339.9" x2="38.85" y2="336.7" stroke="#000" stroke-width="1.25"/>
<line x1="91.85" y1="339.9" x2="91.85" y2="336.7" stroke="#000" stroke-width="1.25"/>
<line x1="144.55" y1="339.9" x2="144.55" y2="336.7" stroke="#000" stroke-width="1.25"/>
<line x1="197.2" y1="339.9" x2="197.2" y2="336.7" stroke="#000" stroke-width="1.25"/>
<text x="56.47" y="353.5" font-size="10.3" fill="#000" stroke="#000">534</text>
<text x="109.28" y="353.5" font-size="10.3" fill="#000" stroke="#000">531</text>
<text x="161.93" y="353.5" font-size="10.3" fill="#000" stroke="#000">528</text>
<text x="43.52" y="369.8" font-size="16.06" fill="#000" stroke="#000">Binding Energy (eV)</text>
<text transform="translate(13.5,327.94) rotate(-90)" font-size="16" fill="#000" stroke="#000">Intensity (a.u.)</text>
<text x="38.21" y="218.6" font-size="17.6" fill="#000" stroke="#000">O 1s TiO</text>
<text x="107.94" y="222.7" font-size="11.3" fill="#000" stroke="#000">2</text>
<text x="162.26" y="224" font-size="16.5" fill="#e0201c" stroke="#e0201c">O</text>
<text x="174.5" y="227.5" font-size="11" fill="#e0201c" stroke="#e0201c">S</text>
<text x="131.48" y="328.7" font-size="15.9" fill="#2222b8" stroke="#2222b8">O</text>
<text x="143.44" y="332.7" font-size="10.8" fill="#2222b8" stroke="#2222b8">L</text>
<text transform="translate(125.2,299.03) rotate(-90)" font-size="10.8" fill="#2222b8" stroke="#2222b8">530.3 eV</text>
<text transform="translate(156,295.03) rotate(-90)" font-size="10.8" fill="#e0201c" stroke="#e0201c">529.1 eV</text>
<path d="M31.1,322.18 L31.6,320.55 L32.1,321.58 L32.6,321.21 L33.1,321.23 L33.6,321.3 L34.1,320.65 L34.6,321.25 L35.1,321.01 L35.61,322.46 L36.11,321.36 L36.61,321.14 L37.11,321.15 L37.61,320.99 L38.11,320.84 L38.61,321.05 L39.11,321.34 L39.61,321.07 L40.11,321.47 L40.61,321.05 L41.11,321.11 L41.61,321.62 L42.11,321.26 L42.61,320.87 L43.11,320.97 L43.61,321.2 L44.11,321.67 L44.62,320.89 L45.12,320.88 L45.62,321.3 L46.12,320.62 L46.62,320.81 L47.12,321.21 L47.62,321.09 L48.12,320.9 L48.62,321.09 L49.12,319.85 L49.62,321.18 L50.12,320.47 L50.62,320.21 L51.12,320.88 L51.62,321.01 L52.12,320.6 L52.62,320.36 L53.13,320.73 L53.63,320.69 L54.13,321.19 L54.63,320.95 L55.13,320.74 L55.63,321.05 L56.13,320.57 L56.63,320.31 L57.13,320.82 L57.63,320.81 L58.13,320.52 L58.63,320.31 L59.13,320.65 L59.63,319.68 L60.13,320.78 L60.63,320.7 L61.13,319.94 L61.64,320.52 L62.14,320.15 L62.64,320.74 L63.14,319.75 L63.64,320.13 L64.14,320.68 L64.64,320.82 L65.14,319.65 L65.64,320.21 L66.14,320.49 L66.64,320.14 L67.14,320.89 L67.64,319.9 L68.14,320.42 L68.64,319.91 L69.14,320.75 L69.64,320.23 L70.14,320.09 L70.65,319.59 L71.15,320.76 L71.65,320.41 L72.15,320.38 L72.65,320.49 L73.15,320.18 L73.65,319.81 L74.15,319.72 L74.65,319.69 L75.15,320.41 L75.65,319.38 L76.15,319.65 L76.65,319.7 L77.15,319.85 L77.65,319.93 L78.15,319.25 L78.65,319.03 L79.16,319.59 L79.66,319.96 L80.16,319.75 L80.66,319.5 L81.16,319.26 L81.66,319.41 L82.16,319.16 L82.66,319.47 L83.16,318.83 L83.66,319.09 L84.16,318.93 L84.66,319.08 L85.16,318.89 L85.66,319.62 L86.16,319.17 L86.66,319.08 L87.16,317.75 L87.67,318.25 L88.17,318.06 L88.67,318.36 L89.17,317.27 L89.67,318.37 L90.17,318.22 L90.67,317.28 L91.17,317.28 L91.67,317.22 L92.17,317.39 L92.67,317.47 L93.17,317.84 L93.67,316.92 L94.17,317.12 L94.67,316.77 L95.17,317.18 L95.67,316.68 L96.17,316.75 L96.68,315.75 L97.18,315.9 L97.68,315.53 L98.18,316.18 L98.68,315.72 L99.18,315.21 L99.68,315 L100.18,315.15 L100.68,314.56 L101.18,314.31 L101.68,314.62 L102.18,315.14 L102.68,314.01 L103.18,313.72 L103.68,313.32 L104.18,313.07 L104.68,313.53 L105.19,313.46 L105.69,312.97 L106.19,312.89 L106.69,312.63 L107.19,312.44 L107.69,311.66 L108.19,311.84 L108.69,311.85 L109.19,311.34 L109.69,311.25 L110.19,310.93 L110.69,310.91 L111.19,311.13 L111.69,310.49 L112.19,310.39 L112.69,310.53 L113.19,310.28 L113.7,310.45 L114.2,308.93 L114.7,309.77 L115.2,309.1 L115.7,309.12 L116.2,309.17 L116.7,309.06 L117.2,308.84 L117.7,308.33 L118.2,308.63 L118.7,307.76 L119.2,307.59 L119.7,307.7 L120.2,307 L120.7,307.71 L121.2,307.06 L121.7,307.2 L122.2,306.15 L122.71,305.72 L123.21,305.6 L123.71,305.46 L124.21,304.63 L124.71,304.58 L125.21,304.02 L125.71,304.13 L126.21,302.83 L126.71,302.89 L127.21,301.71 L127.71,300.95 L128.21,300.34 L128.71,299.42 L129.21,299.06 L129.71,298.48 L130.21,297.21 L130.71,296.32 L131.22,295.55 L131.72,293.85 L132.22,292.52 L132.72,290.96 L133.22,288.99 L133.72,288.22 L134.22,285.64 L134.72,284.68 L135.22,282.54 L135.72,280.93 L136.22,278.4 L136.72,275.92 L137.22,274.03 L137.72,271.3 L138.22,268.94 L138.72,266.45 L139.22,263.74 L139.73,261 L140.23,258 L140.73,255.41 L141.23,251.87 L141.73,249.69 L142.23,246.44 L142.73,244.38 L143.23,241.57 L143.73,237.63 L144.23,235.6 L144.73,232.82 L145.23,229.9 L145.73,227.97 L146.23,225.26 L146.73,222.59 L147.23,221.07 L147.73,219.25 L148.23,217.68 L148.74,215.76 L149.24,215.19 L149.74,214.25 L150.24,212.87 L150.74,212.58 L151.24,212.59 L151.74,212.5 L152.24,213.66 L152.74,213.74 L153.24,214.2 L153.74,215.43 L154.24,217.08 L154.74,219.54 L155.24,220.53 L155.74,222.71 L156.24,225.11 L156.74,227.35 L157.25,230.76 L157.75,232.51 L158.25,235.82 L158.75,238.57 L159.25,241.77 L159.75,244.25 L160.25,248.43 L160.75,250.96 L161.25,254.21 L161.75,257.06 L162.25,260.31 L162.75,263.91 L163.25,267.16 L163.75,270.12 L164.25,273.26 L164.75,275.99 L165.25,278.57 L165.76,281.59 L166.26,284.13 L166.76,286.42 L167.26,289.13 L167.76,291.64 L168.26,293.47 L168.76,295.35 L169.26,297.71 L169.76,299.98 L170.26,301 L170.76,302.69 L171.26,304.21 L171.76,306.12 L172.26,306.39 L172.76,308.4 L173.26,309.83 L173.76,310.19 L174.26,311.98 L174.77,312.54 L175.27,312.99 L175.77,314.01 L176.27,314.09 L176.77,315.06 L177.27,316.47 L177.77,316.04 L178.27,317.47 L178.77,317.23 L179.27,317.99 L179.77,318.01 L180.27,317.53 L180.77,318.41 L181.27,318.94 L181.77,318.7 L182.27,318.85 L182.77,319.64 L183.28,319.46 L183.78,319.25 L184.28,319.75 L184.78,320.42 L185.28,320.08 L185.78,320.68 L186.28,320.99 L186.78,320.55 L187.28,320.23 L187.78,320.25 L188.28,320.77 L188.78,321.15 L189.28,321 L189.78,321.15 L190.28,320.86 L190.78,321.17 L191.28,320.94 L191.79,321.04 L192.29,320.74 L192.79,320.68 L193.29,321.1 L193.79,320.92 L194.29,321 L194.79,321.61 L195.29,321.37 L195.79,322.45 L196.29,321.78 L196.79,321.26 L197.29,321.78 L197.79,321.66 L198.29,321.32 L198.79,321.97 L199.29,321.33 L199.79,320.56 L200.29,321.92 L200.8,321.45 L201.3,322.21 L201.8,321.48 L202.3,321.31 L202.8,322.28 L203.3,321.38 L203.8,321.84 L204.3,322.29 L204.8,321.84" fill="none" stroke="#000" stroke-width="1.3" stroke-linejoin="round" stroke-linecap="round" opacity="1"/>
<path d="M31.1,322.4 L31.6,322.4 L32.1,322.4 L32.6,322.4 L33.1,322.4 L33.6,322.4 L34.1,322.39 L34.6,322.39 L35.1,322.39 L35.61,322.39 L36.11,322.39 L36.61,322.39 L37.11,322.39 L37.61,322.39 L38.11,322.39 L38.61,322.38 L39.11,322.38 L39.61,322.38 L40.11,322.38 L40.61,322.38 L41.11,322.38 L41.61,322.38 L42.11,322.38 L42.61,322.37 L43.11,322.37 L43.61,322.37 L44.11,322.37 L44.62,322.37 L45.12,322.37 L45.62,322.37 L46.12,322.37 L46.62,322.36 L47.12,322.36 L47.62,322.36 L48.12,322.36 L48.62,322.36 L49.12,322.36 L49.62,322.35 L50.12,322.35 L50.62,322.35 L51.12,322.35 L51.62,322.35 L52.12,322.35 L52.62,322.34 L53.13,322.34 L53.63,322.34 L54.13,322.34 L54.63,322.34 L55.13,322.34 L55.63,322.33 L56.13,322.33 L56.63,322.33 L57.13,322.33 L57.63,322.33 L58.13,322.32 L58.63,322.32 L59.13,322.32 L59.63,322.32 L60.13,322.32 L60.63,322.31 L61.13,322.31 L61.64,322.31 L62.14,322.31 L62.64,322.3 L63.14,322.3 L63.64,322.3 L64.14,322.3 L64.64,322.29 L65.14,322.29 L65.64,322.29 L66.14,322.29 L66.64,322.28 L67.14,322.28 L67.64,322.28 L68.14,322.28 L68.64,322.27 L69.14,322.27 L69.64,322.27 L70.14,322.26 L70.65,322.26 L71.15,322.26 L71.65,322.25 L72.15,322.25 L72.65,322.25 L73.15,322.24 L73.65,322.24 L74.15,322.24 L74.65,322.23 L75.15,322.23 L75.65,322.23 L76.15,322.22 L76.65,322.22 L77.15,322.22 L77.65,322.21 L78.15,322.21 L78.65,322.2 L79.16,322.2 L79.66,322.19 L80.16,322.19 L80.66,322.19 L81.16,322.18 L81.66,322.18 L82.16,322.17 L82.66,322.17 L83.16,322.16 L83.66,322.16 L84.16,322.15 L84.66,322.15 L85.16,322.14 L85.66,322.13 L86.16,322.13 L86.66,322.12 L87.16,322.12 L87.67,322.11 L88.17,322.11 L88.67,322.1 L89.17,322.09 L89.67,322.09 L90.17,322.08 L90.67,322.07 L91.17,322.06 L91.67,322.06 L92.17,322.05 L92.67,322.04 L93.17,322.03 L93.67,322.03 L94.17,322.02 L94.67,322.01 L95.17,322 L95.67,321.99 L96.17,321.98 L96.68,321.97 L97.18,321.96 L97.68,321.95 L98.18,321.94 L98.68,321.93 L99.18,321.92 L99.68,321.91 L100.18,321.9 L100.68,321.89 L101.18,321.88 L101.68,321.86 L102.18,321.85 L102.68,321.84 L103.18,321.83 L103.68,321.81 L104.18,321.8 L104.68,321.78 L105.19,321.77 L105.69,321.75 L106.19,321.74 L106.69,321.72 L107.19,321.7 L107.69,321.68 L108.19,321.66 L108.69,321.64 L109.19,321.62 L109.69,321.6 L110.19,321.58 L110.69,321.55 L111.19,321.53 L111.69,321.5 L112.19,321.47 L112.69,321.44 L113.19,321.4 L113.7,321.37 L114.2,321.33 L114.7,321.29 L115.2,321.24 L115.7,321.19 L116.2,321.13 L116.7,321.07 L117.2,321 L117.7,320.93 L118.2,320.84 L118.7,320.75 L119.2,320.64 L119.7,320.53 L120.2,320.4 L120.7,320.25 L121.2,320.09 L121.7,319.91 L122.2,319.71 L122.71,319.48 L123.21,319.23 L123.71,318.94 L124.21,318.63 L124.71,318.28 L125.21,317.89 L125.71,317.45 L126.21,316.97 L126.71,316.44 L127.21,315.86 L127.71,315.21 L128.21,314.51 L128.71,313.73 L129.21,312.88 L129.71,311.95 L130.21,310.95 L130.71,309.85 L131.22,308.67 L131.72,307.39 L132.22,306.02 L132.72,304.54 L133.22,302.96 L133.72,301.27 L134.22,299.48 L134.72,297.57 L135.22,295.56 L135.72,293.43 L136.22,291.2 L136.72,288.87 L137.22,286.43 L137.72,283.89 L138.22,281.25 L138.72,278.54 L139.22,275.74 L139.73,272.87 L140.23,269.94 L140.73,266.96 L141.23,263.94 L141.73,260.9 L142.23,257.84 L142.73,254.79 L143.23,251.76 L143.73,248.77 L144.23,245.83 L144.73,242.96 L145.23,240.18 L145.73,237.51 L146.23,234.97 L146.73,232.57 L147.23,230.34 L147.73,228.29 L148.23,226.44 L148.74,224.8 L149.24,223.39 L149.74,222.23 L150.24,221.32 L150.74,220.67 L151.24,220.29 L151.74,220.19 L152.24,220.36 L152.74,220.79 L153.24,221.5 L153.74,222.47 L154.24,223.69 L154.74,225.15 L155.24,226.83 L155.74,228.73 L156.24,230.82 L156.74,233.09 L157.25,235.53 L157.75,238.1 L158.25,240.79 L158.75,243.59 L159.25,246.48 L159.75,249.43 L160.25,252.44 L160.75,255.47 L161.25,258.53 L161.75,261.58 L162.25,264.62 L162.75,267.63 L163.25,270.6 L163.75,273.52 L164.25,276.37 L164.75,279.15 L165.25,281.85 L165.76,284.46 L166.26,286.98 L166.76,289.4 L167.26,291.71 L167.76,293.92 L168.26,296.02 L168.76,298.01 L169.26,299.89 L169.76,301.66 L170.26,303.32 L170.76,304.88 L171.26,306.33 L171.76,307.69 L172.26,308.94 L172.76,310.11 L173.26,311.18 L173.76,312.17 L174.26,313.08 L174.77,313.91 L175.27,314.67 L175.77,315.36 L176.27,315.99 L176.77,316.57 L177.27,317.08 L177.77,317.55 L178.27,317.98 L178.77,318.36 L179.27,318.7 L179.77,319.01 L180.27,319.28 L180.77,319.53 L181.27,319.75 L181.77,319.95 L182.27,320.13 L182.77,320.29 L183.28,320.43 L183.78,320.56 L184.28,320.67 L184.78,320.77 L185.28,320.86 L185.78,320.94 L186.28,321.02 L186.78,321.08 L187.28,321.14 L187.78,321.2 L188.28,321.25 L188.78,321.3 L189.28,321.34 L189.78,321.38 L190.28,321.41 L190.78,321.45 L191.28,321.48 L191.79,321.51 L192.29,321.53 L192.79,321.56 L193.29,321.58 L193.79,321.6 L194.29,321.63 L194.79,321.65 L195.29,321.67 L195.79,321.69 L196.29,321.7 L196.79,321.72 L197.29,321.74 L197.79,321.76 L198.29,321.77 L198.79,321.79 L199.29,321.8 L199.79,321.81 L200.29,321.83 L200.8,321.84 L201.3,321.85 L201.8,321.87 L202.3,321.88 L202.8,321.89 L203.3,321.9 L203.8,321.91 L204.3,321.93 L204.8,321.94" fill="none" stroke="#e0201c" stroke-width="1.3" stroke-linejoin="round" stroke-linecap="round" opacity="1"/>
<path d="M31.1,322.55 L31.6,322.55 L32.1,322.55 L32.6,322.55 L33.1,322.55 L33.6,322.55 L34.1,322.55 L34.6,322.54 L35.1,322.54 L35.61,322.54 L36.11,322.54 L36.61,322.54 L37.11,322.54 L37.61,322.53 L38.11,322.53 L38.61,322.53 L39.11,322.53 L39.61,322.53 L40.11,322.53 L40.61,322.52 L41.11,322.52 L41.61,322.52 L42.11,322.52 L42.61,322.51 L43.11,322.51 L43.61,322.51 L44.11,322.51 L44.62,322.5 L45.12,322.5 L45.62,322.5 L46.12,322.5 L46.62,322.49 L47.12,322.49 L47.62,322.49 L48.12,322.48 L48.62,322.48 L49.12,322.47 L49.62,322.47 L50.12,322.47 L50.62,322.46 L51.12,322.46 L51.62,322.45 L52.12,322.45 L52.62,322.44 L53.13,322.44 L53.63,322.43 L54.13,322.43 L54.63,322.42 L55.13,322.41 L55.63,322.41 L56.13,322.4 L56.63,322.39 L57.13,322.38 L57.63,322.38 L58.13,322.37 L58.63,322.36 L59.13,322.35 L59.63,322.34 L60.13,322.33 L60.63,322.32 L61.13,322.3 L61.64,322.29 L62.14,322.28 L62.64,322.26 L63.14,322.25 L63.64,322.24 L64.14,322.22 L64.64,322.2 L65.14,322.19 L65.64,322.17 L66.14,322.15 L66.64,322.13 L67.14,322.11 L67.64,322.09 L68.14,322.06 L68.64,322.04 L69.14,322.01 L69.64,321.99 L70.14,321.96 L70.65,321.93 L71.15,321.9 L71.65,321.87 L72.15,321.83 L72.65,321.8 L73.15,321.76 L73.65,321.72 L74.15,321.68 L74.65,321.64 L75.15,321.6 L75.65,321.55 L76.15,321.51 L76.65,321.46 L77.15,321.41 L77.65,321.36 L78.15,321.3 L78.65,321.24 L79.16,321.18 L79.66,321.12 L80.16,321.06 L80.66,320.99 L81.16,320.92 L81.66,320.85 L82.16,320.78 L82.66,320.7 L83.16,320.62 L83.66,320.54 L84.16,320.46 L84.66,320.37 L85.16,320.28 L85.66,320.19 L86.16,320.09 L86.66,319.99 L87.16,319.89 L87.67,319.79 L88.17,319.68 L88.67,319.57 L89.17,319.46 L89.67,319.34 L90.17,319.22 L90.67,319.1 L91.17,318.97 L91.67,318.84 L92.17,318.71 L92.67,318.58 L93.17,318.44 L93.67,318.3 L94.17,318.16 L94.67,318.01 L95.17,317.86 L95.67,317.71 L96.17,317.55 L96.68,317.4 L97.18,317.24 L97.68,317.07 L98.18,316.91 L98.68,316.74 L99.18,316.57 L99.68,316.4 L100.18,316.23 L100.68,316.05 L101.18,315.88 L101.68,315.7 L102.18,315.52 L102.68,315.34 L103.18,315.15 L103.68,314.97 L104.18,314.78 L104.68,314.6 L105.19,314.41 L105.69,314.22 L106.19,314.04 L106.69,313.85 L107.19,313.66 L107.69,313.48 L108.19,313.29 L108.69,313.1 L109.19,312.92 L109.69,312.74 L110.19,312.55 L110.69,312.37 L111.19,312.19 L111.69,312.02 L112.19,311.84 L112.69,311.67 L113.19,311.5 L113.7,311.34 L114.2,311.17 L114.7,311.01 L115.2,310.86 L115.7,310.7 L116.2,310.56 L116.7,310.41 L117.2,310.27 L117.7,310.14 L118.2,310.01 L118.7,309.89 L119.2,309.77 L119.7,309.65 L120.2,309.55 L120.7,309.45 L121.2,309.35 L121.7,309.26 L122.2,309.18 L122.71,309.11 L123.21,309.04 L123.71,308.98 L124.21,308.93 L124.71,308.88 L125.21,308.84 L125.71,308.81 L126.21,308.79 L126.71,308.77 L127.21,308.76 L127.71,308.76 L128.21,308.77 L128.71,308.78 L129.21,308.81 L129.71,308.83 L130.21,308.87 L130.71,308.92 L131.22,308.97 L131.72,309.03 L132.22,309.09 L132.72,309.17 L133.22,309.25 L133.72,309.33 L134.22,309.43 L134.72,309.53 L135.22,309.63 L135.72,309.74 L136.22,309.86 L136.72,309.98 L137.22,310.11 L137.72,310.25 L138.22,310.38 L138.72,310.53 L139.22,310.67 L139.73,310.83 L140.23,310.98 L140.73,311.14 L141.23,311.3 L141.73,311.47 L142.23,311.64 L142.73,311.81 L143.23,311.98 L143.73,312.16 L144.23,312.34 L144.73,312.52 L145.23,312.7 L145.73,312.88 L146.23,313.07 L146.73,313.25 L147.23,313.44 L147.73,313.63 L148.23,313.81 L148.74,314 L149.24,314.19 L149.74,314.38 L150.24,314.56 L150.74,314.75 L151.24,314.93 L151.74,315.12 L152.24,315.3 L152.74,315.48 L153.24,315.66 L153.74,315.84 L154.24,316.02 L154.74,316.19 L155.24,316.37 L155.74,316.54 L156.24,316.71 L156.74,316.88 L157.25,317.04 L157.75,317.21 L158.25,317.37 L158.75,317.52 L159.25,317.68 L159.75,317.83 L160.25,317.98 L160.75,318.13 L161.25,318.27 L161.75,318.41 L162.25,318.55 L162.75,318.68 L163.25,318.82 L163.75,318.95 L164.25,319.07 L164.75,319.2 L165.25,319.32 L165.76,319.43 L166.26,319.55 L166.76,319.66 L167.26,319.77 L167.76,319.87 L168.26,319.97 L168.76,320.07 L169.26,320.17 L169.76,320.26 L170.26,320.35 L170.76,320.44 L171.26,320.52 L171.76,320.61 L172.26,320.69 L172.76,320.76 L173.26,320.84 L173.76,320.91 L174.26,320.98 L174.77,321.05 L175.27,321.11 L175.77,321.17 L176.27,321.23 L176.77,321.29 L177.27,321.34 L177.77,321.4 L178.27,321.45 L178.77,321.5 L179.27,321.55 L179.77,321.59 L180.27,321.63 L180.77,321.68 L181.27,321.72 L181.77,321.75 L182.27,321.79 L182.77,321.83 L183.28,321.86 L183.78,321.89 L184.28,321.92 L184.78,321.95 L185.28,321.98 L185.78,322.01 L186.28,322.03 L186.78,322.06 L187.28,322.08 L187.78,322.1 L188.28,322.12 L188.78,322.14 L189.28,322.16 L189.78,322.18 L190.28,322.2 L190.78,322.22 L191.28,322.23 L191.79,322.25 L192.29,322.26 L192.79,322.28 L193.29,322.29 L193.79,322.3 L194.29,322.31 L194.79,322.32 L195.29,322.34 L195.79,322.35 L196.29,322.36 L196.79,322.36 L197.29,322.37 L197.79,322.38 L198.29,322.39 L198.79,322.4 L199.29,322.4 L199.79,322.41 L200.29,322.42 L200.8,322.42 L201.3,322.43 L201.8,322.44 L202.3,322.44 L202.8,322.45 L203.3,322.45 L203.8,322.46 L204.3,322.46 L204.8,322.47" fill="none" stroke="#2222b8" stroke-width="1.3" stroke-linejoin="round" stroke-linecap="round" opacity="1"/>
<text x="229.86" y="205.7" font-size="19" fill="#000" stroke="#000">(e)</text>
<rect x="263.4" y="191.3" width="179.2" height="145.5" fill="none" stroke="#000" stroke-width="1.35"/>
<line x1="263.4" y1="231.5" x2="268.9" y2="231.5" stroke="#000" stroke-width="1.25"/>
<line x1="263.4" y1="272" x2="268.9" y2="272" stroke="#000" stroke-width="1.25"/>
<line x1="263.4" y1="312.6" x2="268.9" y2="312.6" stroke="#000" stroke-width="1.25"/>
<line x1="263.4" y1="211.5" x2="266.6" y2="211.5" stroke="#000" stroke-width="1.25"/>
<line x1="263.4" y1="251.7" x2="266.6" y2="251.7" stroke="#000" stroke-width="1.25"/>
<line x1="263.4" y1="292.3" x2="266.6" y2="292.3" stroke="#000" stroke-width="1.25"/>
<line x1="263.4" y1="333" x2="266.6" y2="333" stroke="#000" stroke-width="1.25"/>
<line x1="293.4" y1="336.8" x2="293.4" y2="331.3" stroke="#000" stroke-width="1.25"/>
<line x1="353" y1="336.8" x2="353" y2="331.3" stroke="#000" stroke-width="1.25"/>
<line x1="412.8" y1="336.8" x2="412.8" y2="331.3" stroke="#000" stroke-width="1.25"/>
<line x1="323.3" y1="336.8" x2="323.3" y2="333.6" stroke="#000" stroke-width="1.25"/>
<line x1="383.1" y1="336.8" x2="383.1" y2="333.6" stroke="#000" stroke-width="1.25"/>
<text x="284.3" y="351.7" font-size="10.6" fill="#000" stroke="#000">536</text>
<text x="343.93" y="351.7" font-size="10.6" fill="#000" stroke="#000">532</text>
<text x="403.68" y="351.7" font-size="10.6" fill="#000" stroke="#000">528</text>
<text x="276.26" y="369.8" font-size="16.74" fill="#000" stroke="#000">Binding Energy (eV)</text>
<text transform="translate(245.1,326.09) rotate(-90)" font-size="16.6" fill="#000" stroke="#000">Intensity (a.u.)</text>
<text x="272.67" y="211.7" font-size="18.5" fill="#000" stroke="#000">O 1s</text>
<text x="273.41" y="233.7" font-size="18.5" fill="#000" stroke="#000">Au-TiO</text>
<text x="330.6" y="238" font-size="12" fill="#000" stroke="#000">2</text>
<text x="382.48" y="214.4" font-size="16" fill="#e0201c" stroke="#e0201c">O</text>
<text x="394.95" y="218.5" font-size="10.6" fill="#e0201c" stroke="#e0201c">L</text>
<text x="364.46" y="306.5" font-size="16.5" fill="#2222b8" stroke="#2222b8">O</text>
<text x="377.31" y="310" font-size="11" fill="#2222b8" stroke="#2222b8">S</text>
<text transform="translate(312,291.34) rotate(-90)" font-size="12.9" fill="#3aa8a8" stroke="#3aa8a8">COO-Au</text>
<text transform="translate(351.3,279.75) rotate(-90)" font-size="12.9" fill="#e020e0" stroke="#e020e0">COO-Ti</text>
<text transform="translate(375.7,282.84) rotate(-90)" font-size="11" fill="#e0201c" stroke="#e0201c">530.1 eV</text>
<path d="M264.1,321.34 L264.6,321.34 L265.1,321.34 L265.6,321.34 L266.1,321.34 L266.6,321.34 L267.11,321.34 L267.61,321.34 L268.11,321.34 L268.61,321.34 L269.11,321.34 L269.61,321.34 L270.11,321.34 L270.61,321.34 L271.11,321.34 L271.61,321.34 L272.11,321.34 L272.61,321.34 L273.12,321.34 L273.62,321.34 L274.12,321.34 L274.62,321.34 L275.12,321.34 L275.62,321.34 L276.12,321.34 L276.62,321.34 L277.12,321.34 L277.62,321.34 L278.12,321.34 L278.62,321.34 L279.13,321.34 L279.63,321.34 L280.13,321.34 L280.63,321.34 L281.13,321.34 L281.63,321.34 L282.13,321.34 L282.63,321.34 L283.13,321.34 L283.63,321.34 L284.13,321.34 L284.63,321.34 L285.14,321.34 L285.64,321.34 L286.14,321.34 L286.64,321.34 L287.14,321.34 L287.64,321.34 L288.14,321.34 L288.64,321.34 L289.14,321.34 L289.64,321.34 L290.14,321.34 L290.64,321.34 L291.15,321.34 L291.65,321.34 L292.15,321.34 L292.65,321.34 L293.15,321.34 L293.65,321.34 L294.15,321.34 L294.65,321.34 L295.15,321.34 L295.65,321.34 L296.15,321.34 L296.65,321.34 L297.16,321.34 L297.66,321.34 L298.16,321.34 L298.66,321.34 L299.16,321.34 L299.66,321.34 L300.16,321.34 L300.66,321.34 L301.16,321.34 L301.66,321.34 L302.16,321.34 L302.67,321.34 L303.17,321.34 L303.67,321.34 L304.17,321.34 L304.67,321.34 L305.17,321.34 L305.67,321.34 L306.17,321.34 L306.67,321.34 L307.17,321.34 L307.67,321.34 L308.17,321.34 L308.68,321.34 L309.18,321.34 L309.68,321.34 L310.18,321.34 L310.68,321.34 L311.18,321.34 L311.68,321.34 L312.18,321.34 L312.68,321.34 L313.18,321.34 L313.68,321.34 L314.18,321.34 L314.69,321.34 L315.19,321.34 L315.69,321.34 L316.19,321.34 L316.69,321.34 L317.19,321.34 L317.69,321.34 L318.19,321.34 L318.69,321.34 L319.19,321.34 L319.69,321.34 L320.19,321.34 L320.7,321.34 L321.2,321.34 L321.7,321.34 L322.2,321.34 L322.7,321.34 L323.2,321.34 L323.7,321.34 L324.2,321.34 L324.7,321.34 L325.2,321.34 L325.7,321.34 L326.2,321.34 L326.71,321.34 L327.21,321.34 L327.71,321.34 L328.21,321.34 L328.71,321.34 L329.21,321.34 L329.71,321.34 L330.21,321.34 L330.71,321.34 L331.21,321.34 L331.71,321.34 L332.21,321.34 L332.72,321.34 L333.22,321.34 L333.72,321.34 L334.22,321.34 L334.72,321.34 L335.22,321.34 L335.72,321.34 L336.22,321.34 L336.72,321.34 L337.22,321.34 L337.72,321.34 L338.23,321.34 L338.73,321.34 L339.23,321.34 L339.73,321.34 L340.23,321.33 L340.73,321.33 L341.23,321.33 L341.73,321.33 L342.23,321.32 L342.73,321.32 L343.23,321.31 L343.73,321.3 L344.24,321.29 L344.74,321.27 L345.24,321.25 L345.74,321.22 L346.24,321.19 L346.74,321.14 L347.24,321.09 L347.74,321.02 L348.24,320.93 L348.74,320.82 L349.24,320.68 L349.74,320.52 L350.25,320.32 L350.75,320.07 L351.25,319.78 L351.75,319.42 L352.25,319 L352.75,318.5 L353.25,317.91 L353.75,317.21 L354.25,316.4 L354.75,315.46 L355.25,314.38 L355.75,313.14 L356.26,311.72 L356.76,310.12 L357.26,308.31 L357.76,306.29 L358.26,304.05 L358.76,301.57 L359.26,298.85 L359.76,295.89 L360.26,292.68 L360.76,289.22 L361.26,285.53 L361.76,281.62 L362.27,277.51 L362.77,273.21 L363.27,268.75 L363.77,264.17 L364.27,259.51 L364.77,254.8 L365.27,250.1 L365.77,245.44 L366.27,240.89 L366.77,236.5 L367.27,232.31 L367.77,228.39 L368.28,224.79 L368.78,221.55 L369.28,218.72 L369.78,216.35 L370.28,214.46 L370.78,213.08 L371.28,212.24 L371.78,211.94 L372.28,212.19 L372.78,213 L373.28,214.34 L373.79,216.19 L374.29,218.53 L374.79,221.33 L375.29,224.54 L375.79,228.12 L376.29,232.02 L376.79,236.19 L377.29,240.57 L377.79,245.11 L378.29,249.76 L378.79,254.46 L379.29,259.17 L379.8,263.84 L380.3,268.42 L380.8,272.89 L381.3,277.2 L381.8,281.33 L382.3,285.26 L382.8,288.96 L383.3,292.43 L383.8,295.66 L384.3,298.64 L384.8,301.38 L385.3,303.88 L385.81,306.14 L386.31,308.17 L386.81,309.99 L387.31,311.61 L387.81,313.04 L388.31,314.29 L388.81,315.39 L389.31,316.34 L389.81,317.16 L390.31,317.86 L390.81,318.46 L391.31,318.97 L391.82,319.4 L392.32,319.76 L392.82,320.05 L393.32,320.3 L393.82,320.51 L394.32,320.67 L394.82,320.81 L395.32,320.92 L395.82,321.01 L396.32,321.08 L396.82,321.14 L397.32,321.18 L397.83,321.22 L398.33,321.25 L398.83,321.27 L399.33,321.29 L399.83,321.3 L400.33,321.31 L400.83,321.32 L401.33,321.32 L401.83,321.33 L402.33,321.33 L402.83,321.33 L403.33,321.33 L403.84,321.34 L404.34,321.34 L404.84,321.34 L405.34,321.34 L405.84,321.34 L406.34,321.34 L406.84,321.34 L407.34,321.34 L407.84,321.34 L408.34,321.34 L408.84,321.34 L409.35,321.34 L409.85,321.34 L410.35,321.34 L410.85,321.34 L411.35,321.34 L411.85,321.34 L412.35,321.34 L412.85,321.34 L413.35,321.34 L413.85,321.34 L414.35,321.34 L414.85,321.34 L415.36,321.34 L415.86,321.34 L416.36,321.34 L416.86,321.34 L417.36,321.34 L417.86,321.34 L418.36,321.34 L418.86,321.34 L419.36,321.34 L419.86,321.34 L420.36,321.34 L420.86,321.34 L421.37,321.34 L421.87,321.34 L422.37,321.34 L422.87,321.34 L423.37,321.34 L423.87,321.34 L424.37,321.34 L424.87,321.34 L425.37,321.34 L425.87,321.34 L426.37,321.34 L426.87,321.34 L427.38,321.34 L427.88,321.34 L428.38,321.34 L428.88,321.34 L429.38,321.34 L429.88,321.34 L430.38,321.34 L430.88,321.34 L431.38,321.34 L431.88,321.34 L432.38,321.34 L432.88,321.34 L433.39,321.34 L433.89,321.34 L434.39,321.34 L434.89,321.34 L435.39,321.34 L435.89,321.34 L436.39,321.34 L436.89,321.34 L437.39,321.34 L437.89,321.34 L438.39,321.34 L438.89,321.34 L439.4,321.34 L439.9,321.34 L440.4,321.34 L440.9,321.34 L441.4,321.34 L441.9,321.34" fill="none" stroke="#e0201c" stroke-width="1.3" stroke-linejoin="round" stroke-linecap="round" opacity="1"/>
<path d="M264.1,321.33 L264.6,321.33 L265.1,321.33 L265.6,321.33 L266.1,321.33 L266.6,321.33 L267.11,321.33 L267.61,321.33 L268.11,321.33 L268.61,321.33 L269.11,321.33 L269.61,321.33 L270.11,321.33 L270.61,321.33 L271.11,321.33 L271.61,321.33 L272.11,321.33 L272.61,321.33 L273.12,321.33 L273.62,321.33 L274.12,321.33 L274.62,321.33 L275.12,321.33 L275.62,321.32 L276.12,321.32 L276.62,321.32 L277.12,321.32 L277.62,321.32 L278.12,321.32 L278.62,321.32 L279.13,321.32 L279.63,321.32 L280.13,321.32 L280.63,321.32 L281.13,321.32 L281.63,321.32 L282.13,321.32 L282.63,321.32 L283.13,321.32 L283.63,321.32 L284.13,321.32 L284.63,321.32 L285.14,321.32 L285.64,321.32 L286.14,321.32 L286.64,321.32 L287.14,321.32 L287.64,321.32 L288.14,321.32 L288.64,321.32 L289.14,321.32 L289.64,321.32 L290.14,321.32 L290.64,321.32 L291.15,321.32 L291.65,321.32 L292.15,321.32 L292.65,321.32 L293.15,321.32 L293.65,321.32 L294.15,321.32 L294.65,321.32 L295.15,321.32 L295.65,321.32 L296.15,321.32 L296.65,321.32 L297.16,321.32 L297.66,321.32 L298.16,321.32 L298.66,321.32 L299.16,321.32 L299.66,321.32 L300.16,321.32 L300.66,321.32 L301.16,321.32 L301.66,321.32 L302.16,321.32 L302.67,321.32 L303.17,321.32 L303.67,321.32 L304.17,321.32 L304.67,321.32 L305.17,321.32 L305.67,321.32 L306.17,321.32 L306.67,321.32 L307.17,321.32 L307.67,321.32 L308.17,321.32 L308.68,321.32 L309.18,321.32 L309.68,321.31 L310.18,321.31 L310.68,321.31 L311.18,321.31 L311.68,321.31 L312.18,321.31 L312.68,321.31 L313.18,321.3 L313.68,321.3 L314.18,321.3 L314.69,321.3 L315.19,321.29 L315.69,321.29 L316.19,321.28 L316.69,321.28 L317.19,321.27 L317.69,321.26 L318.19,321.25 L318.69,321.24 L319.19,321.23 L319.69,321.22 L320.19,321.21 L320.7,321.19 L321.2,321.17 L321.7,321.15 L322.2,321.13 L322.7,321.1 L323.2,321.07 L323.7,321.04 L324.2,321 L324.7,320.96 L325.2,320.91 L325.7,320.86 L326.2,320.8 L326.71,320.73 L327.21,320.66 L327.71,320.58 L328.21,320.5 L328.71,320.4 L329.21,320.3 L329.71,320.18 L330.21,320.06 L330.71,319.92 L331.21,319.78 L331.71,319.62 L332.21,319.44 L332.72,319.26 L333.22,319.06 L333.72,318.84 L334.22,318.61 L334.72,318.37 L335.22,318.11 L335.72,317.83 L336.22,317.54 L336.72,317.23 L337.22,316.9 L337.72,316.56 L338.23,316.19 L338.73,315.82 L339.23,315.42 L339.73,315.01 L340.23,314.59 L340.73,314.15 L341.23,313.69 L341.73,313.23 L342.23,312.75 L342.73,312.26 L343.23,311.76 L343.73,311.26 L344.24,310.75 L344.74,310.23 L345.24,309.71 L345.74,309.19 L346.24,308.68 L346.74,308.16 L347.24,307.66 L347.74,307.16 L348.24,306.67 L348.74,306.2 L349.24,305.74 L349.74,305.3 L350.25,304.88 L350.75,304.48 L351.25,304.1 L351.75,303.76 L352.25,303.44 L352.75,303.15 L353.25,302.89 L353.75,302.66 L354.25,302.47 L354.75,302.32 L355.25,302.2 L355.75,302.12 L356.26,302.08 L356.76,302.08 L357.26,302.11 L357.76,302.18 L358.26,302.29 L358.76,302.44 L359.26,302.62 L359.76,302.84 L360.26,303.09 L360.76,303.37 L361.26,303.69 L361.76,304.03 L362.27,304.4 L362.77,304.79 L363.27,305.21 L363.77,305.65 L364.27,306.1 L364.77,306.57 L365.27,307.06 L365.77,307.55 L366.27,308.06 L366.77,308.57 L367.27,309.08 L367.77,309.6 L368.28,310.12 L368.78,310.64 L369.28,311.15 L369.78,311.66 L370.28,312.16 L370.78,312.65 L371.28,313.13 L371.78,313.6 L372.28,314.05 L372.78,314.5 L373.28,314.92 L373.79,315.34 L374.29,315.73 L374.79,316.12 L375.29,316.48 L375.79,316.83 L376.29,317.16 L376.79,317.47 L377.29,317.77 L377.79,318.05 L378.29,318.32 L378.79,318.56 L379.29,318.8 L379.8,319.01 L380.3,319.22 L380.8,319.41 L381.3,319.58 L381.8,319.74 L382.3,319.89 L382.8,320.03 L383.3,320.16 L383.8,320.27 L384.3,320.38 L384.8,320.48 L385.3,320.57 L385.81,320.65 L386.31,320.72 L386.81,320.78 L387.31,320.84 L387.81,320.9 L388.31,320.95 L388.81,320.99 L389.31,321.03 L389.81,321.06 L390.31,321.09 L390.81,321.12 L391.31,321.15 L391.82,321.17 L392.32,321.19 L392.82,321.2 L393.32,321.22 L393.82,321.23 L394.32,321.24 L394.82,321.25 L395.32,321.26 L395.82,321.27 L396.32,321.28 L396.82,321.28 L397.32,321.29 L397.83,321.29 L398.33,321.3 L398.83,321.3 L399.33,321.3 L399.83,321.3 L400.33,321.31 L400.83,321.31 L401.33,321.31 L401.83,321.31 L402.33,321.31 L402.83,321.31 L403.33,321.31 L403.84,321.31 L404.34,321.32 L404.84,321.32 L405.34,321.32 L405.84,321.32 L406.34,321.32 L406.84,321.32 L407.34,321.32 L407.84,321.32 L408.34,321.32 L408.84,321.32 L409.35,321.32 L409.85,321.32 L410.35,321.32 L410.85,321.32 L411.35,321.32 L411.85,321.32 L412.35,321.32 L412.85,321.32 L413.35,321.32 L413.85,321.32 L414.35,321.32 L414.85,321.32 L415.36,321.32 L415.86,321.32 L416.36,321.32 L416.86,321.32 L417.36,321.32 L417.86,321.32 L418.36,321.32 L418.86,321.32 L419.36,321.32 L419.86,321.32 L420.36,321.32 L420.86,321.32 L421.37,321.32 L421.87,321.32 L422.37,321.32 L422.87,321.32 L423.37,321.32 L423.87,321.32 L424.37,321.32 L424.87,321.32 L425.37,321.32 L425.87,321.32 L426.37,321.32 L426.87,321.32 L427.38,321.32 L427.88,321.32 L428.38,321.32 L428.88,321.32 L429.38,321.32 L429.88,321.32 L430.38,321.32 L430.88,321.32 L431.38,321.32 L431.88,321.32 L432.38,321.32 L432.88,321.32 L433.39,321.32 L433.89,321.32 L434.39,321.32 L434.89,321.32 L435.39,321.32 L435.89,321.32 L436.39,321.32 L436.89,321.32 L437.39,321.32 L437.89,321.33 L438.39,321.33 L438.89,321.33 L439.4,321.33 L439.9,321.33 L440.4,321.33 L440.9,321.33 L441.4,321.33 L441.9,321.33" fill="none" stroke="#2222b8" stroke-width="1.3" stroke-linejoin="round" stroke-linecap="round" opacity="1"/>
<path d="M264.1,321.58 L264.6,321.58 L265.1,321.58 L265.6,321.58 L266.1,321.58 L266.6,321.58 L267.11,321.58 L267.61,321.58 L268.11,321.58 L268.61,321.58 L269.11,321.58 L269.61,321.58 L270.11,321.58 L270.61,321.58 L271.11,321.58 L271.61,321.58 L272.11,321.58 L272.61,321.58 L273.12,321.58 L273.62,321.58 L274.12,321.58 L274.62,321.58 L275.12,321.58 L275.62,321.58 L276.12,321.58 L276.62,321.58 L277.12,321.58 L277.62,321.58 L278.12,321.58 L278.62,321.58 L279.13,321.58 L279.63,321.58 L280.13,321.58 L280.63,321.58 L281.13,321.58 L281.63,321.58 L282.13,321.58 L282.63,321.58 L283.13,321.58 L283.63,321.58 L284.13,321.58 L284.63,321.58 L285.14,321.58 L285.64,321.58 L286.14,321.58 L286.64,321.58 L287.14,321.58 L287.64,321.58 L288.14,321.58 L288.64,321.58 L289.14,321.58 L289.64,321.58 L290.14,321.58 L290.64,321.58 L291.15,321.58 L291.65,321.58 L292.15,321.58 L292.65,321.58 L293.15,321.58 L293.65,321.58 L294.15,321.58 L294.65,321.58 L295.15,321.58 L295.65,321.58 L296.15,321.58 L296.65,321.58 L297.16,321.58 L297.66,321.58 L298.16,321.58 L298.66,321.58 L299.16,321.58 L299.66,321.58 L300.16,321.58 L300.66,321.58 L301.16,321.58 L301.66,321.58 L302.16,321.58 L302.67,321.58 L303.17,321.58 L303.67,321.58 L304.17,321.58 L304.67,321.58 L305.17,321.58 L305.67,321.58 L306.17,321.58 L306.67,321.58 L307.17,321.58 L307.67,321.58 L308.17,321.58 L308.68,321.58 L309.18,321.58 L309.68,321.57 L310.18,321.57 L310.68,321.56 L311.18,321.56 L311.68,321.55 L312.18,321.54 L312.68,321.53 L313.18,321.51 L313.68,321.49 L314.18,321.47 L314.69,321.44 L315.19,321.4 L315.69,321.35 L316.19,321.29 L316.69,321.22 L317.19,321.14 L317.69,321.04 L318.19,320.91 L318.69,320.77 L319.19,320.6 L319.69,320.39 L320.19,320.16 L320.7,319.88 L321.2,319.56 L321.7,319.2 L322.2,318.78 L322.7,318.31 L323.2,317.78 L323.7,317.19 L324.2,316.53 L324.7,315.8 L325.2,315 L325.7,314.12 L326.2,313.18 L326.71,312.17 L327.21,311.09 L327.71,309.94 L328.21,308.74 L328.71,307.49 L329.21,306.2 L329.71,304.88 L330.21,303.53 L330.71,302.18 L331.21,300.84 L331.71,299.52 L332.21,298.23 L332.72,297 L333.22,295.84 L333.72,294.77 L334.22,293.79 L334.72,292.93 L335.22,292.2 L335.72,291.61 L336.22,291.16 L336.72,290.86 L337.22,290.73 L337.72,290.75 L338.23,290.94 L338.73,291.28 L339.23,291.77 L339.73,292.41 L340.23,293.18 L340.73,294.08 L341.23,295.08 L341.73,296.19 L342.23,297.37 L342.73,298.62 L343.23,299.91 L343.73,301.24 L344.24,302.59 L344.74,303.94 L345.24,305.28 L345.74,306.59 L346.24,307.88 L346.74,309.11 L347.24,310.3 L347.74,311.42 L348.24,312.48 L348.74,313.47 L349.24,314.4 L349.74,315.25 L350.25,316.02 L350.75,316.73 L351.25,317.37 L351.75,317.95 L352.25,318.46 L352.75,318.91 L353.25,319.31 L353.75,319.66 L354.25,319.97 L354.75,320.23 L355.25,320.46 L355.75,320.65 L356.26,320.81 L356.76,320.95 L357.26,321.07 L357.76,321.17 L358.26,321.25 L358.76,321.31 L359.26,321.37 L359.76,321.41 L360.26,321.45 L360.76,321.48 L361.26,321.5 L361.76,321.52 L362.27,321.53 L362.77,321.54 L363.27,321.55 L363.77,321.56 L364.27,321.57 L364.77,321.57 L365.27,321.57 L365.77,321.58 L366.27,321.58 L366.77,321.58 L367.27,321.58 L367.77,321.58 L368.28,321.58 L368.78,321.58 L369.28,321.58 L369.78,321.58 L370.28,321.58 L370.78,321.58 L371.28,321.58 L371.78,321.58 L372.28,321.58 L372.78,321.58 L373.28,321.58 L373.79,321.58 L374.29,321.58 L374.79,321.58 L375.29,321.58 L375.79,321.58 L376.29,321.58 L376.79,321.58 L377.29,321.58 L377.79,321.58 L378.29,321.58 L378.79,321.58 L379.29,321.58 L379.8,321.58 L380.3,321.58 L380.8,321.58 L381.3,321.58 L381.8,321.58 L382.3,321.58 L382.8,321.58 L383.3,321.58 L383.8,321.58 L384.3,321.58 L384.8,321.58 L385.3,321.58 L385.81,321.58 L386.31,321.58 L386.81,321.58 L387.31,321.58 L387.81,321.58 L388.31,321.58 L388.81,321.58 L389.31,321.58 L389.81,321.58 L390.31,321.58 L390.81,321.58 L391.31,321.58 L391.82,321.58 L392.32,321.58 L392.82,321.58 L393.32,321.58 L393.82,321.58 L394.32,321.58 L394.82,321.58 L395.32,321.58 L395.82,321.58 L396.32,321.58 L396.82,321.58 L397.32,321.58 L397.83,321.58 L398.33,321.58 L398.83,321.58 L399.33,321.58 L399.83,321.58 L400.33,321.58 L400.83,321.58 L401.33,321.58 L401.83,321.58 L402.33,321.58 L402.83,321.58 L403.33,321.58 L403.84,321.58 L404.34,321.58 L404.84,321.58 L405.34,321.58 L405.84,321.58 L406.34,321.58 L406.84,321.58 L407.34,321.58 L407.84,321.58 L408.34,321.58 L408.84,321.58 L409.35,321.58 L409.85,321.58 L410.35,321.58 L410.85,321.58 L411.35,321.58 L411.85,321.58 L412.35,321.58 L412.85,321.58 L413.35,321.58 L413.85,321.58 L414.35,321.58 L414.85,321.58 L415.36,321.58 L415.86,321.58 L416.36,321.58 L416.86,321.58 L417.36,321.58 L417.86,321.58 L418.36,321.58 L418.86,321.58 L419.36,321.58 L419.86,321.58 L420.36,321.58 L420.86,321.58 L421.37,321.58 L421.87,321.58 L422.37,321.58 L422.87,321.58 L423.37,321.58 L423.87,321.58 L424.37,321.58 L424.87,321.58 L425.37,321.58 L425.87,321.58 L426.37,321.58 L426.87,321.58 L427.38,321.58 L427.88,321.58 L428.38,321.58 L428.88,321.58 L429.38,321.58 L429.88,321.58 L430.38,321.58 L430.88,321.58 L431.38,321.58 L431.88,321.58 L432.38,321.58 L432.88,321.58 L433.39,321.58 L433.89,321.58 L434.39,321.58 L434.89,321.58 L435.39,321.58 L435.89,321.58 L436.39,321.58 L436.89,321.58 L437.39,321.58 L437.89,321.58 L438.39,321.58 L438.89,321.58 L439.4,321.58 L439.9,321.58 L440.4,321.58 L440.9,321.58 L441.4,321.58 L441.9,321.58" fill="none" stroke="#e020e0" stroke-width="1.3" stroke-linejoin="round" stroke-linecap="round" opacity="1"/>
<path d="M264.1,320.64 L264.6,320.64 L265.1,320.64 L265.6,320.64 L266.1,320.64 L266.6,320.64 L267.11,320.64 L267.61,320.64 L268.11,320.63 L268.61,320.63 L269.11,320.63 L269.61,320.63 L270.11,320.63 L270.61,320.63 L271.11,320.63 L271.61,320.63 L272.11,320.63 L272.61,320.62 L273.12,320.62 L273.62,320.62 L274.12,320.62 L274.62,320.61 L275.12,320.61 L275.62,320.6 L276.12,320.6 L276.62,320.59 L277.12,320.58 L277.62,320.57 L278.12,320.56 L278.62,320.55 L279.13,320.53 L279.63,320.52 L280.13,320.5 L280.63,320.48 L281.13,320.45 L281.63,320.43 L282.13,320.4 L282.63,320.36 L283.13,320.32 L283.63,320.28 L284.13,320.22 L284.63,320.17 L285.14,320.1 L285.64,320.03 L286.14,319.95 L286.64,319.87 L287.14,319.77 L287.64,319.66 L288.14,319.54 L288.64,319.41 L289.14,319.26 L289.64,319.1 L290.14,318.93 L290.64,318.74 L291.15,318.53 L291.65,318.3 L292.15,318.06 L292.65,317.79 L293.15,317.5 L293.65,317.19 L294.15,316.85 L294.65,316.49 L295.15,316.11 L295.65,315.7 L296.15,315.26 L296.65,314.79 L297.16,314.3 L297.66,313.77 L298.16,313.22 L298.66,312.64 L299.16,312.03 L299.66,311.39 L300.16,310.72 L300.66,310.03 L301.16,309.3 L301.66,308.55 L302.16,307.78 L302.67,306.98 L303.17,306.16 L303.67,305.32 L304.17,304.46 L304.67,303.59 L305.17,302.7 L305.67,301.81 L306.17,300.91 L306.67,300 L307.17,299.09 L307.67,298.19 L308.17,297.29 L308.68,296.4 L309.18,295.53 L309.68,294.68 L310.18,293.84 L310.68,293.04 L311.18,292.26 L311.68,291.52 L312.18,290.82 L312.68,290.15 L313.18,289.53 L313.68,288.96 L314.18,288.44 L314.69,287.98 L315.19,287.57 L315.69,287.22 L316.19,286.93 L316.69,286.7 L317.19,286.54 L317.69,286.44 L318.19,286.41 L318.69,286.44 L319.19,286.54 L319.69,286.7 L320.19,286.93 L320.7,287.21 L321.2,287.56 L321.7,287.97 L322.2,288.43 L322.7,288.95 L323.2,289.52 L323.7,290.14 L324.2,290.8 L324.7,291.51 L325.2,292.25 L325.7,293.02 L326.2,293.83 L326.71,294.66 L327.21,295.51 L327.71,296.39 L328.21,297.27 L328.71,298.17 L329.21,299.07 L329.71,299.98 L330.21,300.89 L330.71,301.79 L331.21,302.69 L331.71,303.57 L332.21,304.45 L332.72,305.3 L333.22,306.14 L333.72,306.97 L334.22,307.76 L334.72,308.54 L335.22,309.29 L335.72,310.01 L336.22,310.71 L336.72,311.38 L337.22,312.02 L337.72,312.63 L338.23,313.21 L338.73,313.76 L339.23,314.29 L339.73,314.78 L340.23,315.25 L340.73,315.69 L341.23,316.1 L341.73,316.49 L342.23,316.85 L342.73,317.18 L343.23,317.49 L343.73,317.78 L344.24,318.05 L344.74,318.3 L345.24,318.52 L345.74,318.73 L346.24,318.93 L346.74,319.1 L347.24,319.26 L347.74,319.41 L348.24,319.54 L348.74,319.66 L349.24,319.77 L349.74,319.86 L350.25,319.95 L350.75,320.03 L351.25,320.1 L351.75,320.17 L352.25,320.22 L352.75,320.27 L353.25,320.32 L353.75,320.36 L354.25,320.4 L354.75,320.43 L355.25,320.45 L355.75,320.48 L356.26,320.5 L356.76,320.52 L357.26,320.53 L357.76,320.55 L358.26,320.56 L358.76,320.57 L359.26,320.58 L359.76,320.59 L360.26,320.6 L360.76,320.6 L361.26,320.61 L361.76,320.61 L362.27,320.62 L362.77,320.62 L363.27,320.62 L363.77,320.62 L364.27,320.63 L364.77,320.63 L365.27,320.63 L365.77,320.63 L366.27,320.63 L366.77,320.63 L367.27,320.63 L367.77,320.63 L368.28,320.63 L368.78,320.63 L369.28,320.64 L369.78,320.64 L370.28,320.64 L370.78,320.64 L371.28,320.64 L371.78,320.64 L372.28,320.64 L372.78,320.64 L373.28,320.64 L373.79,320.64 L374.29,320.64 L374.79,320.64 L375.29,320.64 L375.79,320.64 L376.29,320.64 L376.79,320.64 L377.29,320.64 L377.79,320.64 L378.29,320.64 L378.79,320.64 L379.29,320.64 L379.8,320.64 L380.3,320.64 L380.8,320.64 L381.3,320.64 L381.8,320.64 L382.3,320.64 L382.8,320.64 L383.3,320.64 L383.8,320.64 L384.3,320.64 L384.8,320.64 L385.3,320.64 L385.81,320.64 L386.31,320.64 L386.81,320.64 L387.31,320.64 L387.81,320.64 L388.31,320.64 L388.81,320.64 L389.31,320.64 L389.81,320.64 L390.31,320.64 L390.81,320.64 L391.31,320.64 L391.82,320.64 L392.32,320.64 L392.82,320.64 L393.32,320.64 L393.82,320.64 L394.32,320.64 L394.82,320.64 L395.32,320.64 L395.82,320.64 L396.32,320.64 L396.82,320.64 L397.32,320.64 L397.83,320.64 L398.33,320.64 L398.83,320.64 L399.33,320.64 L399.83,320.64 L400.33,320.64 L400.83,320.64 L401.33,320.64 L401.83,320.64 L402.33,320.64 L402.83,320.64 L403.33,320.64 L403.84,320.64 L404.34,320.64 L404.84,320.64 L405.34,320.64 L405.84,320.64 L406.34,320.64 L406.84,320.64 L407.34,320.64 L407.84,320.64 L408.34,320.64 L408.84,320.64 L409.35,320.64 L409.85,320.64 L410.35,320.64 L410.85,320.64 L411.35,320.64 L411.85,320.64 L412.35,320.64 L412.85,320.64 L413.35,320.64 L413.85,320.64 L414.35,320.64 L414.85,320.64 L415.36,320.64 L415.86,320.64 L416.36,320.64 L416.86,320.64 L417.36,320.64 L417.86,320.64 L418.36,320.64 L418.86,320.64 L419.36,320.64 L419.86,320.64 L420.36,320.64 L420.86,320.64 L421.37,320.64 L421.87,320.64 L422.37,320.64 L422.87,320.64 L423.37,320.64 L423.87,320.64 L424.37,320.64 L424.87,320.64 L425.37,320.64 L425.87,320.64 L426.37,320.64 L426.87,320.64 L427.38,320.64 L427.88,320.64 L428.38,320.64 L428.88,320.64 L429.38,320.64 L429.88,320.64 L430.38,320.64 L430.88,320.64 L431.38,320.64 L431.88,320.64 L432.38,320.64 L432.88,320.64 L433.39,320.64 L433.89,320.64 L434.39,320.64 L434.89,320.64 L435.39,320.64 L435.89,320.64 L436.39,320.64 L436.89,320.64 L437.39,320.64 L437.89,320.64 L438.39,320.64 L438.89,320.64 L439.4,320.64 L439.9,320.64 L440.4,320.64 L440.9,320.64 L441.4,320.64 L441.9,320.64" fill="none" stroke="#66c4c4" stroke-width="1.2" stroke-linejoin="round" stroke-linecap="round" opacity="1"/>
<line x1="392" y1="321.4" x2="441.9" y2="321.4" stroke="#999" stroke-width="1.2"/>
<path d="M264.1,319.47 L264.6,319.27 L265.11,319.63 L265.61,319.85 L266.11,320.09 L266.62,319.72 L267.12,319.47 L267.63,319.38 L268.13,319.9 L268.63,320.2 L269.14,319.71 L269.64,319.18 L270.14,319.26 L270.65,320.15 L271.15,319.65 L271.66,318.96 L272.16,319.53 L272.66,319.14 L273.17,319.32 L273.67,319.36 L274.17,319.27 L274.68,319.71 L275.18,319.48 L275.69,319.29 L276.19,319.63 L276.69,319.76 L277.2,318.88 L277.7,319.36 L278.2,319.09 L278.71,319.35 L279.21,318.95 L279.72,319.39 L280.22,319.34 L280.72,319.23 L281.23,318.94 L281.73,319.14 L282.23,318.86 L282.74,318.73 L283.24,319.24 L283.75,318.73 L284.25,319.47 L284.75,319.25 L285.26,318.24 L285.76,318.96 L286.26,318.39 L286.77,318.7 L287.27,318.6 L287.78,317.78 L288.28,318.27 L288.78,318.12 L289.29,318.4 L289.79,317.49 L290.29,317.98 L290.8,317.14 L291.3,317.2 L291.81,316.8 L292.31,317.37 L292.81,316.8 L293.32,317.18 L293.82,316.26 L294.32,316.02 L294.83,315.68 L295.33,314.81 L295.84,314.61 L296.34,314.69 L296.84,313.64 L297.35,313.38 L297.85,312.81 L298.35,312.51 L298.86,311.61 L299.36,311.11 L299.87,310.64 L300.37,309.95 L300.87,308.94 L301.38,308.86 L301.88,307.38 L302.38,306.66 L302.89,305.86 L303.39,305.86 L303.9,304.58 L304.4,303.53 L304.9,302.63 L305.41,302.31 L305.91,300.92 L306.41,299.96 L306.92,299.73 L307.42,298.2 L307.93,297.62 L308.43,296.85 L308.93,295.82 L309.44,295.09 L309.94,294.73 L310.44,293.25 L310.95,292.19 L311.45,291.22 L311.96,291.05 L312.46,290.3 L312.96,289.86 L313.47,288.99 L313.97,288.41 L314.47,287.8 L314.98,287.4 L315.48,287.21 L315.99,286.65 L316.49,286.49 L316.99,286.85 L317.5,286.12 L318,285.22" fill="none" stroke="#555" stroke-width="1.3" stroke-linejoin="round" stroke-linecap="round" opacity="1"/>
<path d="M318,286.14 L318.5,286.26 L319,284.64 L319.5,285.42 L320.01,285.79 L320.51,285.9 L321.01,285.66 L321.51,285.97 L322.01,285.57 L322.51,285.69 L323.02,285.57 L323.52,285.13 L324.02,285.18 L324.52,285.56 L325.02,285.13 L325.52,285.65 L326.03,285.47 L326.53,285.42 L327.03,284.5 L327.53,284.67 L328.03,283.48 L328.53,283.08 L329.04,282.91 L329.54,282.46 L330.04,281.25 L330.54,280.63 L331.04,280.75 L331.54,279.72 L332.05,279.84 L332.55,278.96 L333.05,278.37 L333.55,277.81 L334.05,277.59 L334.55,276.83 L335.06,276.95 L335.56,276.16 L336.06,276.14 L336.56,275.96 L337.06,276.49 L337.56,276.5 L338.06,276.5 L338.57,277.93 L339.07,277.64 L339.57,278.36 L340.07,279.27 L340.57,280.56 L341.07,280.78 L341.58,282.03 L342.08,282.81 L342.58,283.29 L343.08,285.13 L343.58,286.27 L344.08,286.88 L344.59,287.99 L345.09,288.46 L345.59,289.41 L346.09,290.71 L346.59,291.91 L347.09,292.3 L347.6,293.27 L348.1,294.13 L348.6,294.36 L349.1,294.98 L349.6,295.65 L350.1,294.98 L350.61,295.85 L351.11,295.01 L351.61,295.79 L352.11,295.58 L352.61,295.08 L353.11,294.54 L353.61,294.42 L354.12,293.69 L354.62,293.13 L355.12,291.9 L355.62,291.37 L356.12,289.62 L356.62,288.51 L357.13,286.92 L357.63,285.75 L358.13,282.83 L358.63,281.04 L359.13,279.22 L359.63,275.97 L360.14,272.94 L360.64,270.45 L361.14,267.02 L361.64,264 L362.14,259.8 L362.64,256.45 L363.15,252.74 L363.65,248.89 L364.15,244.09 L364.65,240.89 L365.15,235.99 L365.65,231.75 L366.16,228.01 L366.66,224.61 L367.16,220.85 L367.66,217.77 L368.16,214.73 L368.66,211.96 L369.17,209.43 L369.67,208.25 L370.17,205.39 L370.67,204.58 L371.17,204.54 L371.67,204.33 L372.17,204.47 L372.68,206.22 L373.18,207.89 L373.68,209.46 L374.18,213.26 L374.68,216.5 L375.18,219.97 L375.69,223.22 L376.19,227.62 L376.69,231.6 L377.19,236.71 L377.69,241.19 L378.19,246.47 L378.7,251.15 L379.2,256.57 L379.7,261.4 L380.2,266.35 L380.7,270.03 L381.2,274.47 L381.71,279.57 L382.21,283.34 L382.71,287.57 L383.21,291.17 L383.71,294.51 L384.21,297.9 L384.72,300.65 L385.22,303.24 L385.72,305.14 L386.22,308.2 L386.72,309.56 L387.22,311.61 L387.73,312.85 L388.23,314.51 L388.73,315.28 L389.23,316.31 L389.73,317.16 L390.23,317.62 L390.73,318.32 L391.24,319.05 L391.74,319.56 L392.24,319.69 L392.74,321.24 L393.24,320.41 L393.74,320.95 L394.25,322.18 L394.75,321.33 L395.25,322.04 L395.75,322.19 L396.25,322.06 L396.75,321.79 L397.26,321.89 L397.76,322.57 L398.26,322.84 L398.76,322.05 L399.26,322.95 L399.76,322.76 L400.27,323.38 L400.77,323.21 L401.27,322.94 L401.77,323.15 L402.27,323.39 L402.77,323.92 L403.28,324.59 L403.78,323.72 L404.28,323.71 L404.78,323.99 L405.28,323.83 L405.78,324.14 L406.29,324.13 L406.79,324.07 L407.29,323.86 L407.79,324.27 L408.29,324.6 L408.79,324.38 L409.29,324.96 L409.8,324.83 L410.3,324.52 L410.8,325.24 L411.3,324.31 L411.8,325.18 L412.3,325.48 L412.81,324.8 L413.31,324.92 L413.81,325.34 L414.31,325.57 L414.81,325.28 L415.31,325.26 L415.82,325.54 L416.32,325.36 L416.82,324.89 L417.32,325.29 L417.82,325.39 L418.32,324.9 L418.83,325.6 L419.33,325.23 L419.83,325.78 L420.33,325.02 L420.83,325.24 L421.33,325.07 L421.84,326.05 L422.34,326.07 L422.84,326.16 L423.34,326.18 L423.84,326.01 L424.34,326.02 L424.84,325.14 L425.35,325.87 L425.85,325.59 L426.35,325.68 L426.85,325.38 L427.35,326.29 L427.85,325.9 L428.36,325.34 L428.86,326.06 L429.36,325.87 L429.86,325.54 L430.36,325.81 L430.86,325.66 L431.37,325.14 L431.87,325.42 L432.37,326.14 L432.87,326.09 L433.37,326.07 L433.87,325.58 L434.38,325.79 L434.88,326.03 L435.38,326.26 L435.88,325.73 L436.38,325.66 L436.88,326.44 L437.39,326.07 L437.89,325.92 L438.39,325.8 L438.89,325.84 L439.39,326.63 L439.89,326.42 L440.4,325.93 L440.9,325.64 L441.4,326.67 L441.9,326.63" fill="none" stroke="#2a1818" stroke-width="1.3" stroke-linejoin="round" stroke-linecap="round" opacity="1"/>
<text x="463.06" y="207.6" font-size="19" fill="#000" stroke="#000">(f)</text>
<rect x="500" y="191.9" width="176.9" height="143.4" fill="none" stroke="#000" stroke-width="1.35"/>
<line x1="500" y1="314.2" x2="505.5" y2="314.2" stroke="#000" stroke-width="1.25"/>
<line x1="500" y1="291.75" x2="505.5" y2="291.75" stroke="#000" stroke-width="1.25"/>
<line x1="500" y1="269.3" x2="505.5" y2="269.3" stroke="#000" stroke-width="1.25"/>
<line x1="500" y1="246.85" x2="505.5" y2="246.85" stroke="#000" stroke-width="1.25"/>
<line x1="500" y1="224.4" x2="505.5" y2="224.4" stroke="#000" stroke-width="1.25"/>
<line x1="500" y1="201.95" x2="505.5" y2="201.95" stroke="#000" stroke-width="1.25"/>
<line x1="500" y1="325.4" x2="503.2" y2="325.4" stroke="#000" stroke-width="1.25"/>
<line x1="500" y1="302.95" x2="503.2" y2="302.95" stroke="#000" stroke-width="1.25"/>
<line x1="500" y1="280.5" x2="503.2" y2="280.5" stroke="#000" stroke-width="1.25"/>
<line x1="500" y1="258.05" x2="503.2" y2="258.05" stroke="#000" stroke-width="1.25"/>
<line x1="500" y1="235.6" x2="503.2" y2="235.6" stroke="#000" stroke-width="1.25"/>
<line x1="500" y1="213.15" x2="503.2" y2="213.15" stroke="#000" stroke-width="1.25"/>
<line x1="520.4" y1="335.3" x2="520.4" y2="329.8" stroke="#000" stroke-width="1.25"/>
<line x1="551.7" y1="335.3" x2="551.7" y2="329.8" stroke="#000" stroke-width="1.25"/>
<line x1="583" y1="335.3" x2="583" y2="329.8" stroke="#000" stroke-width="1.25"/>
<line x1="614.3" y1="335.3" x2="614.3" y2="329.8" stroke="#000" stroke-width="1.25"/>
<line x1="645.6" y1="335.3" x2="645.6" y2="329.8" stroke="#000" stroke-width="1.25"/>
<line x1="504.75" y1="335.3" x2="504.75" y2="332.1" stroke="#000" stroke-width="1.25"/>
<line x1="536.05" y1="335.3" x2="536.05" y2="332.1" stroke="#000" stroke-width="1.25"/>
<line x1="567.35" y1="335.3" x2="567.35" y2="332.1" stroke="#000" stroke-width="1.25"/>
<line x1="598.65" y1="335.3" x2="598.65" y2="332.1" stroke="#000" stroke-width="1.25"/>
<line x1="629.95" y1="335.3" x2="629.95" y2="332.1" stroke="#000" stroke-width="1.25"/>
<line x1="661.25" y1="335.3" x2="661.25" y2="332.1" stroke="#000" stroke-width="1.25"/>
<text x="514.88" y="350.6" font-size="10.3" fill="#000" stroke="#000">93</text>
<text x="545.16" y="350.6" font-size="10.3" fill="#000" stroke="#000">90</text>
<text x="576.91" y="350.6" font-size="10.3" fill="#000" stroke="#000">87</text>
<text x="608.11" y="350.6" font-size="10.3" fill="#000" stroke="#000">84</text>
<text x="639.11" y="350.6" font-size="10.3" fill="#000" stroke="#000">81</text>
<text x="669.83" y="350.6" font-size="10.3" fill="#000" stroke="#000">78</text>
<text x="508.89" y="368.9" font-size="16.4" fill="#000" stroke="#000">Binding Energy (eV)</text>
<text transform="translate(478.7,326.28) rotate(-90)" font-size="16.4" fill="#000" stroke="#000">Intensity (a.u.)</text>
<text x="507.91" y="212.6" font-size="18.2" fill="#000" stroke="#000">Au 4f</text>
<text x="508.51" y="234.6" font-size="18.1" fill="#000" stroke="#000">Au-TiO</text>
<text x="564.92" y="238.8" font-size="11.5" fill="#000" stroke="#000">2</text>
<text x="535.73" y="265.4" font-size="15" fill="#000" stroke="#000">4f</text>
<text x="549.26" y="269.5" font-size="11" fill="#000" stroke="#000">5/2</text>
<text x="606.73" y="218.5" font-size="15" fill="#000" stroke="#000">4f</text>
<text x="621.05" y="222.8" font-size="11" fill="#000" stroke="#000">7/2</text>
<text transform="translate(575.9,319.78) rotate(-90)" font-size="10.7" fill="#000" stroke="#000">88.1 eV</text>
<text transform="translate(614,314.28) rotate(-90)" font-size="10.7" fill="#000" stroke="#000">84.4 eV</text>
<path d="M500.7,319.13 L501.2,319.23 L501.7,319.02 L502.2,318.81 L502.7,318.96 L503.2,318.76 L503.7,319.13 L504.2,319.57 L504.7,318.93 L505.2,318.88 L505.7,319.27 L506.2,319.21 L506.7,319.12 L507.2,318.76 L507.7,319.07 L508.2,319.32 L508.7,318.6 L509.2,318.91 L509.7,318.4 L510.2,318.61 L510.7,318.41 L511.2,318.97 L511.7,318.6 L512.2,319.13 L512.7,319.09 L513.2,318.96 L513.7,318.14 L514.2,318.83 L514.7,318.99 L515.2,319.04 L515.7,318.46 L516.2,318.83 L516.7,318.64 L517.2,318.7 L517.7,319.35 L518.2,318.68 L518.7,318.95 L519.2,319.26 L519.7,318.74 L520.2,318.9 L520.7,318.97 L521.2,318.95 L521.7,318.49 L522.2,318.93 L522.7,319.37 L523.2,318.35 L523.7,319.18 L524.2,318.91 L524.7,318.64 L525.2,319.55 L525.7,319.11 L526.2,318.41 L526.7,318.84 L527.2,319.01 L527.7,318.73 L528.2,319.02 L528.7,318.75 L529.2,318.99 L529.7,319.25 L530.2,318.49 L530.7,318.79 L531.2,318.54 L531.7,318.73 L532.2,318.25 L532.7,318.45 L533.2,318.57 L533.7,318.93 L534.2,319 L534.7,318.12 L535.2,318.28 L535.7,318.77 L536.2,317.82 L536.7,318.33 L537.2,318.44 L537.7,318.89 L538.2,318.66 L538.7,318.28 L539.2,318.24 L539.7,318.25 L540.2,318.84 L540.7,318.13 L541.2,318.14 L541.7,318.33 L542.2,318.13 L542.7,318.07 L543.2,317.7 L543.7,318.05 L544.2,317.85 L544.7,318.37 L545.2,318.14 L545.7,317.85 L546.2,318.04 L546.7,317.63 L547.2,318.06 L547.7,317.62 L548.2,317.76 L548.7,317.03 L549.2,317.53 L549.7,316.73 L550.2,316.52 L550.7,317.03 L551.2,316.72 L551.7,316.98 L552.2,317.59 L552.7,316.38 L553.2,316.31 L553.7,316.44 L554.2,316.36 L554.7,315.92 L555.2,315.67 L555.7,315.72 L556.2,315.34 L556.7,314.43 L557.2,314.33 L557.7,313.87 L558.2,312.89 L558.7,312.64 L559.2,311.41 L559.7,311.07 L560.2,309.65 L560.7,308.27 L561.2,306.48 L561.7,304.85 L562.2,302.15 L562.7,300.14 L563.2,298.07 L563.7,294.31 L564.2,292.17 L564.7,287.81 L565.2,284.97 L565.7,280.47 L566.2,276.9 L566.7,272.4 L567.2,267.47 L567.7,264.12 L568.2,259.98 L568.7,255.47 L569.2,251.76 L569.7,248.66 L570.2,245.86 L570.7,244.81 L571.2,243.3 L571.7,243.43 L572.2,244.03 L572.7,245.8 L573.2,248.06 L573.7,252.09 L574.2,255.26 L574.7,259.7 L575.2,263.67 L575.7,267.85 L576.2,272.44 L576.7,276.77 L577.2,281.24 L577.7,285.2 L578.2,289.08 L578.7,292.29 L579.2,295.8 L579.7,299.67 L580.2,301.57 L580.7,303.86 L581.2,306.48 L581.7,308.72 L582.2,309.34 L582.7,311.18 L583.2,312.22 L583.7,312.84 L584.2,314.57 L584.7,315.02 L585.2,315.65 L585.7,315.86 L586.2,316.69 L586.7,316.68 L587.2,317.1 L587.7,316.99 L588.2,317.14 L588.7,318.18 L589.2,317.64 L589.7,318 L590.2,317.94 L590.7,317.81 L591.2,317.78 L591.7,318.13 L592.2,317.72 L592.7,317.64 L593.2,317.53 L593.7,317.69 L594.2,317.2 L594.7,316.7 L595.2,315.86 L595.7,314.95 L596.2,315.01 L596.7,314.09 L597.2,312.59 L597.7,311.5 L598.2,310.03 L598.7,308.22 L599.2,306.14 L599.7,303.24 L600.2,301.19 L600.7,297.14 L601.2,294.45 L601.7,290.54 L602.2,286.56 L602.7,282.49 L603.2,277.65 L603.7,271.78 L604.2,266.47 L604.7,262.11 L605.2,256.19 L605.7,251.33 L606.2,246.57 L606.7,240.92 L607.2,236.36 L607.7,233.3 L608.2,229.96 L608.7,227.32 L609.2,225.71 L609.7,224.57 L610.2,224.43 L610.7,225.93 L611.2,227.56 L611.7,230.07 L612.2,234.3 L612.7,238.2 L613.2,242.98 L613.7,247.49 L614.2,252.88 L614.7,258.2 L615.2,263.73 L615.7,269.56 L616.2,274.55 L616.7,280.1 L617.2,285 L617.7,290.2 L618.2,293.3 L618.7,298.05 L619.2,301.3 L619.7,304.57 L620.2,306.96 L620.7,309.87 L621.2,312.53 L621.7,314.19 L622.2,315.93 L622.7,317.24 L623.2,318.97 L623.7,319.6 L624.2,319.7 L624.7,320.96 L625.2,321.12 L625.7,321.18 L626.2,322.55 L626.7,323.56 L627.2,323.4 L627.7,323.22 L628.2,323.51 L628.7,324.41 L629.2,324.22 L629.7,324.32 L630.2,324.4 L630.7,324.54 L631.2,324.9 L631.7,324.89 L632.2,324.85 L632.7,324.48 L633.2,325.09 L633.7,324.74 L634.2,325.42 L634.7,324.64 L635.2,325.09 L635.7,325.19 L636.2,324.77 L636.7,325.88 L637.2,325.83 L637.7,325.2 L638.2,325.67 L638.7,325.56 L639.2,324.55 L639.7,325.59 L640.2,325.51 L640.7,325.59 L641.2,325.21 L641.7,325.52 L642.2,325.58 L642.7,326.08 L643.2,325.81 L643.7,325.71 L644.2,326.27 L644.7,325.57 L645.2,325.64 L645.7,325.16 L646.2,326.37 L646.7,326.18 L647.2,326.18 L647.7,326.11 L648.2,325.93 L648.7,325.98 L649.2,325.83 L649.7,325.87 L650.2,325.97 L650.7,326.5 L651.2,326.18 L651.7,325.97 L652.2,325.8 L652.7,325.8 L653.2,326.59 L653.7,326.22 L654.2,326.08 L654.7,325.94 L655.2,325.69 L655.7,326.06 L656.2,326.4 L656.7,325.97 L657.2,326.04 L657.7,326.05 L658.2,326.17 L658.7,325.59 L659.2,326.07 L659.7,325.86 L660.2,326.48 L660.7,325.91 L661.2,326.39 L661.7,326.73 L662.2,326.09 L662.7,326 L663.2,326.28 L663.7,326.22 L664.2,325.88 L664.7,326.39 L665.2,326.94 L665.7,326.16 L666.2,326.18 L666.7,325.89 L667.2,326.38 L667.7,325.83 L668.2,325.89 L668.7,326.73 L669.2,325.97 L669.7,326.67 L670.2,326.83 L670.7,326.39 L671.2,326.5 L671.7,326.99 L672.2,326.25 L672.7,326.11 L673.2,325.85 L673.7,326.34 L674.2,326.85 L674.7,326.67 L675.2,326.01 L675.7,326.05 L676.2,326.17" fill="none" stroke="#000" stroke-width="1.3" stroke-linejoin="round" stroke-linecap="round" opacity="1"/>
</svg>
</body></html>
